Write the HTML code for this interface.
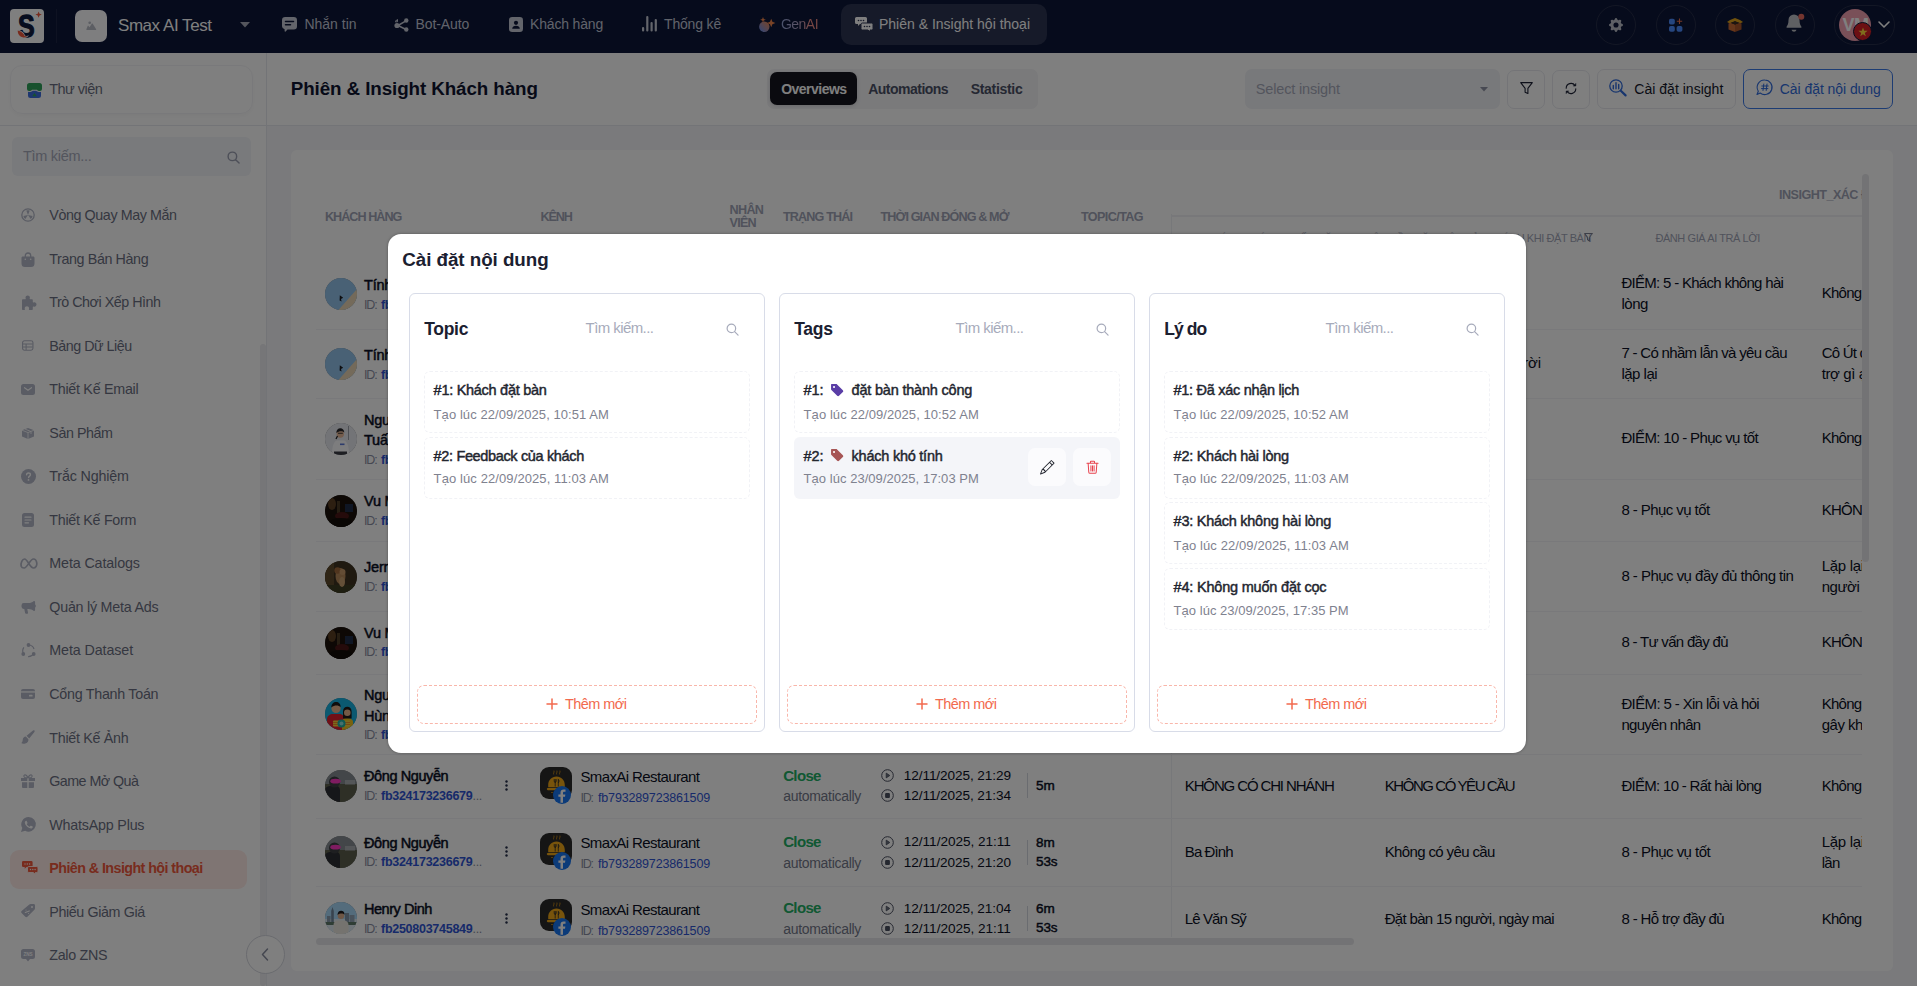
<!DOCTYPE html>
<html lang="vi"><head>
<meta charset="utf-8">
<title>Phiên &amp; Insight hội thoại</title>
<style>
*{box-sizing:border-box;margin:0;padding:0}
html,body{width:1917px;height:986px;overflow:hidden}
body{position:relative;font-family:"Liberation Sans",Arial,sans-serif;font-size:14px;color:#181c32;background:#f4f5f8}
.abs{position:absolute}
.t{position:absolute;white-space:nowrap;line-height:1}
svg{display:block;position:absolute;overflow:visible}
b,.b{font-weight:700}
/* NAV */
#nav{position:absolute;left:0;top:0;width:1917px;height:53px;background:#0c1638}
#nav .logo{left:10px;top:9px;width:34px;height:34px;border-radius:4px;background:#fff;overflow:hidden}
#nav .vdiv{left:56px;top:9px;width:1px;height:34px;background:#1c2544}
#nav .ws{left:75px;top:10px;width:32px;height:32px;border-radius:7px;background:#fcfcff}
#nav .wsn{color:#fff}
#nav .mi{color:#c2c7d6}
#nav .act{left:841px;top:4px;width:206px;height:41px;border-radius:10px;background:#2c3452}
#nav .circ{top:5px;width:40px;height:40px;border-radius:20px;border:1px solid #272e4a}
/* SIDEBAR */
#side{position:absolute;left:0;top:53px;width:267px;height:933px;background:#fff;border-right:1px solid #e6e8ee}
#side .lib{left:10px;top:12px;width:243px;height:49px;border:1px solid #f3f3f6;border-radius:12px;box-shadow:0 2px 4px rgba(0,0,0,.03)}
#side .search{left:12px;top:84px;width:239px;height:39px;border-radius:6px;background:#f2f4f8}
#side .s{color:#6b6f82}
#side .actbg{left:10px;top:797px;width:237px;height:39px;border-radius:9px;background:#ffeae6}
#side .sb{left:260px;top:291px;width:6px;height:642px;background:#ececf0;border-radius:3px}
#side .col{left:246px;top:882px;width:39px;height:39px;border-radius:20px;border:1px solid #d4d6de;background:#fff}
/* HEADER */
#head{position:absolute;left:267px;top:53px;width:1650px;height:73px;background:#fff;border-bottom:1px solid #e6e8ee}
#sidehr{position:absolute;left:0;top:125px;width:267px;height:1px;background:#e6e8ee}
#head .tabs{left:500px;top:16px;width:271px;height:40px;border-radius:7px;background:#f4f4f7}
#head .tabact{left:503px;top:19px;width:87px;height:33px;border-radius:7px;background:#15151f;box-shadow:0 1px 4px rgba(0,0,0,.15)}
#head .sel{left:978px;top:16px;width:255px;height:40px;border-radius:7px;background:#f1f2f6}
#head .btn{top:16.5px;height:39px;border:1px solid #e8e9ef;border-radius:7px;background:#fff}
/* CARD */
#card{position:absolute;left:291px;top:150px;width:1602px;height:821px;background:#fff;border-radius:6px}
.th{color:#a1a5b7;font-weight:700}
.th2{color:#a1a5b7}
.rj{left:auto!important;right:271px}
.nm{color:#0a0f24;-webkit-text-stroke:.5px #0a0f24}
.el{font-weight:400;color:#8b8fa3}
.idl{color:#8b8fa3}
.idv{color:#2f55d4;font-weight:700}
.idv2{color:#2f55d4}
.tx{color:#0a0f24}
.cl{color:#22b066;font-weight:700}
.au{color:#74788a}
.du{color:#0a0f24;-webkit-text-stroke:.45px #0a0f24}
.av{width:32px;height:32px;border-radius:16px;overflow:hidden;background:#888}
.a1{background:linear-gradient(150deg,#8fc0ea 0 58%,#e9d2b0 58% 100%)}
.a2{background:radial-gradient(circle at 50% 60%,#fff 0 30%,#e6e8ee 31% 100%)}
.a3{background:radial-gradient(circle at 50% 45%,#5a3a1e 0 25%,#1e120a 60%)}
.a4{background:radial-gradient(circle at 50% 45%,#8a6a3a 0 25%,#2e2416 65%)}
.a5{background:linear-gradient(180deg,#23b6e0 0 55%,#d33 55% 80%,#2a9 80%)}
.a6{background:linear-gradient(180deg,#6c747c 0 45%,#5a6350 45% 100%)}
.a7{background:linear-gradient(180deg,#9ad4ef 0 50%,#dfe8ee 50% 100%)}
.ch{width:32px;height:32px;border-radius:9px;background:#2b2b2b}
.fb{width:20px;height:20px}
.row{position:absolute;left:25px;width:1546px;border-top:1px solid #eef0f4}
/* OVERLAY + MODAL */
#ov{position:absolute;left:0;top:0;width:1917px;height:986px;background:rgba(0,0,0,.5)}
#modal{position:absolute;left:388px;top:234px;width:1138px;height:519px;background:#fff;border-radius:13px;box-shadow:0 0 3px rgba(0,0,0,.35)}
.panel{position:absolute;top:59px;width:356px;height:439px;border:1px solid #d8dce8;border-radius:6px}
.it{position:absolute;left:14px;width:326px;height:62px;border:1px dashed #f1f2f6;border-radius:6px}
.it .a{color:#23262f;-webkit-text-stroke:.45px #23262f}
.it .d{color:#7f828f}
.add{position:absolute;left:7px;top:391px;width:340px;height:39px;border:1px dashed #f9b6aa;border-radius:7px}
.add .t{color:#f26a4e}
.ph{color:#a7abbb}
</style>
</head>
<body>
<div id="nav">
  <div class="abs logo"></div>
  <div class="abs vdiv"></div>
  <div class="abs ws"></div>
  <div class="t wsn" style="left: 118px; font-size: 17px; top: 16.81px; letter-spacing: -0.45px;">Smax AI Test</div>
  <div class="abs act"></div>
  <div class="t mi" style="left: 304.5px; font-size: 14px; top: 17.45px; letter-spacing: -0.02px;">Nhắn tin</div>
  <div class="t mi" style="left: 415.5px; font-size: 14px; top: 17.45px; letter-spacing: -0.1px;">Bot-Auto</div>
  <div class="t mi" style="left: 530px; font-size: 14px; top: 17.45px; letter-spacing: -0.17px;">Khách hàng</div>
  <div class="t mi" style="left: 664px; font-size: 14px; top: 17.45px; letter-spacing: -0.17px;">Thống kê</div>
  <div class="t mi" style="background: linear-gradient(90deg, rgb(147, 164, 216) 0%, rgb(181, 166, 204) 45%, rgb(240, 141, 134) 80%) text; color: transparent; left: 781px; font-size: 14px; top: 17.45px; letter-spacing: -0.54px;">GenAI</div>
  <div class="t mi" style="color: rgb(255, 255, 255); left: 879px; font-size: 14px; top: 17.45px; letter-spacing: 0px;">Phiên &amp; Insight hội thoại</div>
  <div class="abs circ" style="left:1596px"></div>
  <div class="abs circ" style="left:1656px"></div>
  <div class="abs circ" style="left:1715px"></div>
  <div class="abs circ" style="left:1775px"></div>
  <div class="abs circ" style="left:1834px;width:61px"></div>

  <svg style="left:10px;top:9px" width="34" height="34" viewBox="0 0 34 34"><text x="0" y="0" transform="translate(8,28.300) scale(.78,1)" font-family="Liberation Sans,sans-serif" font-weight="700" font-size="32" fill="#0f1a3f" stroke="#0f1a3f" stroke-width="1.300" stroke-linejoin="round">S</text><path d="M6.800 20.500c-.2 5 2.600 8.200 6.400 8.400 2.400.1 4.500-.8 5.800-2.600-1.400.7-2.700.8-3.800.5-.9-3-4.100-5.900-8.400-6.300z" fill="#fff"></path><path d="M7.700 21.600c0 4 2.300 6.600 5.500 6.800 1.600.1 3-.3 4.100-1.200-1 .1-1.900 0-2.700-.3-.9-2.400-3.500-4.700-6.900-5.300z" fill="#f1583c"></path><path d="M28.600 2.400l.9 2.300 2.300.9-2.300.9-.9 2.300-.9-2.300-2.300-.9 2.300-.9z" fill="#f1583c"></path></svg>
  <svg style="left:86px;top:21px" width="11" height="9.500" viewBox="0 0 14 12" fill="#b9bcc6"><circle cx="4.700" cy="2.200" r="1.700"></circle><path d="M1.200 11.500c-.5 0-.9-.5-.7-1l1.500-4c.2-.5.900-.6 1.200-.2l1.300 1.500 2.800-4.200c.3-.5 1-.5 1.300 0l4.300 6.800c.3.500 0 1.100-.6 1.100z"></path></svg>
  <svg style="left:240px;top:22px" width="10" height="6" viewBox="0 0 10 6" fill="#a9adba"><path d="M0 0h10L5 5.500z"></path></svg>
  <svg style="left:281.500px;top:17px" width="15" height="15" viewBox="0 0 15 15" fill="#c6cad6"><path d="M3.200 0h8.600A3.200 3.200 0 0 1 15 3.200v6A3.200 3.200 0 0 1 11.800 12.400H5.500L3.600 14.500c-.4.400-1 .1-1-.4v-1.900A3.200 3.200 0 0 1 0 9.200v-6A3.200 3.200 0 0 1 3.200 0z"></path><path d="M3.500 4.600h8M3.500 7.700h5" stroke="#0c1638" stroke-width="1.500" stroke-linecap="round"></path></svg>
  <svg style="left:393.500px;top:17.500px" width="15" height="14" viewBox="0 0 15 14" fill="#c6cad6" stroke="#c6cad6"><path d="M4 7.500L12 2.800M4 7.500L12 11.500" stroke-width="1.500" fill="none"></path><circle cx="12.300" cy="2.500" r="2.200" stroke="none"></circle><circle cx="12.300" cy="11.500" r="2.200" stroke="none"></circle><circle cx="3" cy="7.500" r="2.600" stroke="none"></circle><path d="M1 3.500l2.500-2M3.500 1.500v2.300H1.200" stroke-width="1" fill="none"></path></svg>
  <svg style="left:508.500px;top:17px" width="14" height="15" viewBox="0 0 14 15"><rect width="14" height="15" rx="3.200" fill="#c6cad6"></rect><circle cx="7" cy="5.800" r="2.100" fill="#0c1638"></circle><path d="M3.200 11.800c0-2 1.700-3 3.800-3s3.800 1 3.800 3z" fill="#0c1638"></path></svg>
  <svg style="left:641.500px;top:16px" width="15" height="16" viewBox="0 0 15 16" fill="#c6cad6"><rect x="0" y="11" width="2.200" height="4.500" rx="1"></rect><rect x="4.200" y="0" width="2.200" height="15.500" rx="1"></rect><rect x="8.500" y="6" width="2.200" height="9.500" rx="1"></rect><rect x="12.700" y="3" width="2.200" height="12.500" rx="1"></rect></svg>
  <svg style="left:758.500px;top:16.500px" width="17" height="15" viewBox="0 0 17 15"><defs><linearGradient id="gg" x1="0" y1="1" x2="1" y2="0"><stop offset="0" stop-color="#5f8df5"></stop><stop offset="1" stop-color="#f2874c"></stop></linearGradient></defs><circle cx="5.300" cy="9.700" r="5.200" fill="url(#gg)"></circle><path d="M4 0l.8 2 2 .8-2 .8-.8 2-.8-2-2-.8 2-.8z" fill="#f2874c"></path><path d="M12.200 1.800l1.200 3 3 1.200-3 1.200-1.200 3-1.200-3-3-1.200 3-1.200z" fill="#f2874c"></path></svg>
  <svg style="left:855px;top:16.500px" width="18" height="15" viewBox="0 0 18 15" fill="#fff"><path d="M1.500 0h9A1.500 1.500 0 0 1 12 1.500v4A1.500 1.500 0 0 1 10.500 7H5L3 9V7H1.500A1.500 1.500 0 0 1 0 5.500v-4A1.500 1.500 0 0 1 1.500 0z"></path><path d="M7.500 6h9A1.500 1.500 0 0 1 18 7.500v4a1.500 1.500 0 0 1-1.500 1.500H15v2l-2-2H7.500A1.500 1.500 0 0 1 6 11.500v-4A1.500 1.500 0 0 1 7.500 6z" stroke="#2c3452" stroke-width="1"></path><g fill="#2c3452"><circle cx="3.500" cy="3.500" r=".8"></circle><circle cx="6" cy="3.500" r=".8"></circle><circle cx="8.500" cy="3.500" r=".8"></circle><circle cx="9.500" cy="9.500" r=".8"></circle><circle cx="12" cy="9.500" r=".8"></circle><circle cx="14.500" cy="9.500" r=".8"></circle></g></svg>
  <svg style="left:1609px;top:18px" width="14" height="14" viewBox="0 0 16 16" fill="#bcc0cb"><path d="M9.405 1.050c-.413-1.400-2.397-1.400-2.810 0l-.1.340a1.464 1.464 0 0 1-2.105.872l-.31-.170c-1.283-.698-2.686.705-1.987 1.987l.169.311c.446.820.023 1.841-.872 2.105l-.34.100c-1.400.413-1.400 2.397 0 2.810l.34.100a1.464 1.464 0 0 1 .872 2.105l-.170.310c-.698 1.283.705 2.686 1.987 1.987l.311-.169a1.464 1.464 0 0 1 2.105.872l.1.340c.413 1.400 2.397 1.400 2.810 0l.1-.340a1.464 1.464 0 0 1 2.105-.872l.310.170c1.283.698 2.686-.705 1.987-1.987l-.169-.311a1.464 1.464 0 0 1 .872-2.105l.340-.100c1.400-.413 1.400-2.397 0-2.810l-.340-.100a1.464 1.464 0 0 1-.872-2.105l.170-.310c.698-1.283-.705-2.686-1.987-1.987l-.311.169a1.464 1.464 0 0 1-2.105-.872zM8 10.930a2.929 2.929 0 1 1 0-5.860 2.929 2.929 0 0 1 0 5.858z"></path></svg>
  <svg style="left:1669px;top:18px" width="14" height="14" viewBox="0 0 14 14"><rect x="0" y="0.800" width="5.800" height="5.800" rx="1.800" fill="#4c8dff"></rect><rect x="0" y="8" width="5.800" height="5.800" rx="1.800" fill="#4c8dff"></rect><rect x="7.600" y="8" width="5.800" height="5.800" rx="1.800" fill="#4c8dff"></rect><path d="M10.500 .5v5.400M7.800 3.200h5.400" stroke="#f07048" stroke-width="1.100"></path></svg>
  <svg style="left:1727px;top:17px" width="16" height="16" viewBox="0 0 16 16"><path d="M8 1L3 3 0 5l3 1.500L8 4.300l5 2.200L16 5l-3-2z" fill="#e0a31a"></path><path d="M1.500 6.500v6L8 15V7.500L3.500 5.800z" fill="#c96a34"></path><path d="M14.500 6.500v6L8 15V7.500l4.500-1.700z" fill="#a8552a"></path><path d="M3.500 5.800L8 4.200l4.500 1.600L8 7.500z" fill="#3a2a20"></path></svg>
  <svg style="left:1786px;top:13px" width="20" height="22" viewBox="0 0 20 22"><path d="M8 1.500a5.500 5.500 0 0 0-5.500 5.500c0 3.800-1 5.500-1.800 6.400-.5.500-.1 1.400.6 1.400h13.400c.7 0 1.100-.9.600-1.400-.8-.9-1.800-2.600-1.800-6.400A5.500 5.500 0 0 0 8 1.500z" fill="#bfc1c7"></path><path d="M5.500 16.800a2.600 2.600 0 0 0 5 0z" fill="#bfc1c7"></path><circle cx="15.300" cy="3.800" r="3" fill="#e96a5e"></circle></svg>
  <div class="abs" style="left:1839px;top:9px;width:32px;height:32px;border-radius:16px;background:#f2a0b0"></div>
  <div class="t b" style="color: rgb(255, 255, 255); left: 1842.5px; font-size: 18px; top: 16.26px; letter-spacing: -0.5px;">VM</div>
  <div class="abs" style="left:1853px;top:22px;width:19px;height:19px;border-radius:10px;background:#d81f26;border:1.500px solid #0c1638"></div>
  <svg style="left:1857.500px;top:26.500px" width="10" height="10" viewBox="0 0 10 10"><path d="M5 .5l1.200 3.300h3.400L6.800 5.900l1 3.400L5 7.300 2.200 9.300l1-3.400L.4 3.800h3.400z" fill="#ffd83a"></path></svg>
  <svg style="left:1878px;top:21px" width="12" height="8" viewBox="0 0 12 8" fill="none" stroke="#fff" stroke-width="1.600" stroke-linecap="round" stroke-linejoin="round"><path d="M1 1l5 5 5-5"></path></svg>
</div>
<div id="side">
  <div class="abs lib"></div>
  <div class="t s" style="left: 49.2px; font-size: 14.5px; top: 29.23px; letter-spacing: -0.53px;">Thư viện</div>
  <div class="abs search"></div>
  <div class="t ph" style="left: 23px; font-size: 14.5px; top: 95.73px; letter-spacing: -0.29px;">Tìm kiếm...</div>
  <div class="abs actbg"></div>
  <div class="t s" style="left: 49.3px; font-size: 14.3px; top: 155.1px; letter-spacing: -0.41px;">Vòng Quay May Mắn</div>
  <div class="t s" style="left: 49.3px; font-size: 14.3px; top: 198.6px; letter-spacing: -0.39px;">Trang Bán Hàng</div>
  <div class="t s" style="left: 49.3px; font-size: 14.3px; top: 242.2px; letter-spacing: -0.48px;">Trò Chơi Xếp Hình</div>
  <div class="t s" style="left: 49.3px; font-size: 14.3px; top: 285.7px; letter-spacing: -0.49px;">Bảng Dữ Liệu</div>
  <div class="t s" style="left: 49.3px; font-size: 14.3px; top: 329.2px; letter-spacing: -0.28px;">Thiết Kế Email</div>
  <div class="t s" style="left: 49.3px; font-size: 14.3px; top: 372.8px; letter-spacing: -0.45px;">Sản Phẩm</div>
  <div class="t s" style="left: 49.3px; font-size: 14.3px; top: 416.3px; letter-spacing: -0.17px;">Trắc Nghiệm</div>
  <div class="t s" style="left: 49.3px; font-size: 14.3px; top: 459.8px; letter-spacing: -0.29px;">Thiết Kế Form</div>
  <div class="t s" style="left: 49.3px; font-size: 14.3px; top: 503.4px; letter-spacing: -0.13px;">Meta Catalogs</div>
  <div class="t s" style="left: 49.3px; font-size: 14.3px; top: 546.9px; letter-spacing: -0.24px;">Quản lý Meta Ads</div>
  <div class="t s" style="left: 49.3px; font-size: 14.3px; top: 590.4px; letter-spacing: -0.11px;">Meta Dataset</div>
  <div class="t s" style="left: 49.3px; font-size: 14.3px; top: 634px; letter-spacing: -0.28px;">Cổng Thanh Toán</div>
  <div class="t s" style="left: 49.3px; font-size: 14.3px; top: 677.5px; letter-spacing: -0.3px;">Thiết Kế Ảnh</div>
  <div class="t s" style="left: 49.3px; font-size: 14.3px; top: 721px; letter-spacing: -0.56px;">Game Mở Quà</div>
  <div class="t s" style="left: 49.3px; font-size: 14.3px; top: 764.6px; letter-spacing: -0.21px;">WhatsApp Plus</div>
  <div class="t s b" style="color: rgb(241, 88, 60); left: 49.3px; font-size: 14.3px; top: 808.1px; letter-spacing: -0.57px;">Phiên &amp; Insight hội thoại</div>
  <div class="t s" style="left: 49.3px; font-size: 14.3px; top: 851.6px; letter-spacing: -0.39px;">Phiếu Giảm Giá</div>
  <div class="t s" style="left: 49.3px; font-size: 14.3px; top: 895.2px; letter-spacing: -0.31px;">Zalo ZNS</div>
  <div class="abs sb"></div>
  <div class="abs col"></div>
  <svg style="left:26.500px;top:30px" width="15" height="15" viewBox="0 0 15 15"><path d="M2.500 0h10A2.500 2.500 0 0 1 15 2.500V6a2 2 0 0 1-2 2h-1.200c-.8 0-1.500-.5-1.800-1.200H5c-.3.700-1 1.200-1.800 1.200H2a2 2 0 0 1-2-2V2.500A2.500 2.500 0 0 1 2.500 0z" fill="#2fa35a"></path><path d="M1 8.800c.4.200.8.200 1.200.2h1c1 0 1.900-.5 2.400-1.200h3.800c.5.700 1.400 1.200 2.400 1.200h1c.4 0 .8 0 1.200-.2v3.700A2.500 2.500 0 0 1 11.500 15h-8A2.500 2.500 0 0 1 1 12.500z" fill="#3d6fe0"></path><path d="M7.500 10l2.300 3.200H5.200z" fill="#2fa35a"></path></svg>
  <svg style="left:226.500px;top:97.800px" width="13" height="13" viewBox="0 0 14 14" fill="none" stroke="#9a9eb0" stroke-width="1.500" stroke-linecap="round"><circle cx="5.800" cy="5.800" r="4.600"></circle><path d="M9.300 9.300L13 13"></path></svg>
  <svg style="left:21.0px;top:155.0px" width="14" height="14" viewBox="0 0 14 14"><circle cx="7" cy="7" r="6.200" fill="none" stroke="#b4b8c8" stroke-width="1.300"></circle><g fill="#b4b8c8"><path d="M7 7L5.300 2.600a4.800 4.800 0 0 1 3.400 0z"></path><path d="M7 7l4.600 1a4.800 4.800 0 0 1-1.900 2.900z"></path><path d="M7 7L4.300 10.900A4.800 4.800 0 0 1 2.400 8z"></path></g></svg>
  <svg style="left:21.0px;top:198.5px" width="14" height="15" viewBox="0 0 14 15"><path d="M4.300 5V3.700a2.700 2.700 0 0 1 5.400 0V5" fill="none" stroke="#b4b8c8" stroke-width="1.300"></path><path d="M1.800 4.500h10.400c.7 0 1.300.6 1.300 1.300v5.700A3.500 3.500 0 0 1 10 15H4A3.500 3.500 0 0 1 .5 11.500V5.800c0-.7.600-1.300 1.300-1.300z" fill="#b4b8c8"></path><circle cx="4.300" cy="7.300" r=".8" fill="#fff"></circle><circle cx="9.700" cy="7.300" r=".8" fill="#fff"></circle></svg>
  <svg style="left:20.5px;top:241.5px" width="15" height="15" viewBox="0 0 15 15"><path d="M1 5.200c0-.6.500-1 1-1h2.300c.4 0 .6-.4.400-.8A2 2 0 0 1 4.500 2.500C4.500 1.400 5.500.5 6.700.5s2.200.9 2.200 2c0 .3-.1.600-.2.900-.2.400 0 .8.400.8h1.700c.6 0 1 .4 1 1v1.900c0 .4.400.6.800.4.300-.1.600-.2.900-.2 1.100 0 2 1 2 2.200s-.9 2.200-2 2.200c-.3 0-.6-.1-.9-.2-.4-.2-.8 0-.8.400v2c0 .6-.4 1-1 1H8.300c-.4 0-.6-.4-.4-.8.100-.3.200-.6.200-.9 0-1.100-1-2-2.200-2s-2.200.9-2.200 2c0 .3.100.6.200.9.200.4 0 .8-.4.800H2c-.5 0-1-.4-1-1z" fill="#b4b8c8"></path></svg>
  <svg style="left:22.3px;top:287.3px" width="11.500" height="11" viewBox="0 0 14 13"><rect x=".7" y=".7" width="12.600" height="11.600" rx="2.300" fill="none" stroke="#b4b8c8" stroke-width="1.400"></rect><path d="M1 4.600h12M1 8.400h12M5 4.600v7.400" stroke="#b4b8c8" stroke-width="1.300"></path></svg>
  <svg style="left:21.0px;top:330.5px" width="14" height="11" viewBox="0 0 14 11"><rect width="14" height="11" rx="2.500" fill="#b4b8c8"></rect><path d="M3.500 3.700L7 6.300l3.500-2.600" fill="none" stroke="#fff" stroke-width="1.100" stroke-linecap="round"></path></svg>
  <svg style="left:22.0px;top:374.5px" width="12" height="11" viewBox="0 0 12 11"><path d="M6 0L12 2.200V8.500L6 11 0 8.500V2.200z" fill="#b4b8c8"></path><path d="M0 2.200L6 4.600l6-2.400M6 4.600V11M3 1.100l6 2.400v2.500" fill="none" stroke="#fff" stroke-width=".8"></path></svg>
  <svg style="left:20.5px;top:415.5px" width="15" height="15" viewBox="0 0 15 15"><circle cx="7.500" cy="7.500" r="7.500" fill="#b4b8c8"></circle><path d="M5.600 5.800c0-1 .8-1.800 1.900-1.800s1.900.7 1.900 1.700c0 1.300-1.800 1.500-1.800 2.800" fill="none" stroke="#fff" stroke-width="1.400" stroke-linecap="round"></path><circle cx="7.500" cy="10.900" r=".9" fill="#fff"></circle></svg>
  <svg style="left:22.0px;top:460.0px" width="12" height="14" viewBox="0 0 12 14"><rect width="12" height="14" rx="2.500" fill="#b4b8c8"></rect><path d="M3 4.200h6M3 7h6M3 9.800h3.500" stroke="#fff" stroke-width="1.200" stroke-linecap="round"></path></svg>
  <svg style="left:20.0px;top:504.5px" width="18" height="11" viewBox="0 0 18 11"><path d="M1.200 8.200C.5 5 2.300 1 4.600 1c2.800 0 5.500 9 8.800 9 2.300 0 3.700-2.300 3.400-4.800C16.500 2.800 15.200 1 13.400 1 10.200 1 7.200 10 4.200 10c-1.600 0-2.700-.8-3-1.800z" fill="none" stroke="#b4b8c8" stroke-width="1.700"></path></svg>
  <svg style="left:20.5px;top:547.5px" width="15" height="13" viewBox="0 0 15 13"><path d="M13.200 0c.5 0 .9.400.9.900v8.200c0 .5-.4.900-.9.900-.3 0-.5-.1-.7-.3C11.300 8.600 9.500 8 7.500 7.900H6.300l.7 3.800c.1.500-.3 1-.8 1H5c-.4 0-.8-.3-.9-.7L3.300 7.900H2.800A2.300 2.300 0 0 1 .5 5.600v-1.200A2.300 2.300 0 0 1 2.800 2.100h4.700c2-.1 3.800-.7 5-1.800.2-.2.400-.3.700-.3z" fill="#b4b8c8"></path><rect x="14.300" y="3.800" width=".7" height="2.400" fill="#b4b8c8"></rect></svg>
  <svg style="left:20.5px;top:589.5px" width="15" height="15" viewBox="0 0 15 15"><circle cx="7.500" cy="7.800" r="5.800" fill="none" stroke="#b4b8c8" stroke-width="1.200" stroke-dasharray="6.500 5.650" stroke-dashoffset="-2.800"></circle><circle cx="7.500" cy="2" r="1.900" fill="#b4b8c8"></circle><circle cx="2.300" cy="11" r="1.900" fill="#b4b8c8"></circle><circle cx="12.700" cy="11" r="1.900" fill="#b4b8c8"></circle></svg>
  <svg style="left:21.0px;top:636.0px" width="14" height="10" viewBox="0 0 14 10"><rect width="14" height="10" rx="2" fill="#b4b8c8"></rect><rect x="0" y="2.300" width="14" height="1.300" fill="#fff"></rect><rect x="8" y="5.800" width="3.600" height="1.800" rx=".6" fill="#fff"></rect></svg>
  <svg style="left:21.0px;top:677.0px" width="14" height="14" viewBox="0 0 14 14"><path d="M13.300.3c.5.500.5 1.200.1 1.700L8.200 8.400 5.600 5.800 12 .6c.4-.4 1-.5 1.300-.3z" fill="#b4b8c8"></path><path d="M4.800 6.600l2.600 2.600c.3 2-1 3.800-3.200 4.300-1.600.4-3.300.1-4-.5 1.200-.6 1.300-1.600 1.500-3 .2-1.900 1.400-3.300 3.100-3.400z" fill="#b4b8c8"></path></svg>
  <svg style="left:21.0px;top:721.0px" width="14" height="14" viewBox="0 0 14 14"><path d="M0 4h6.300v3H0zM7.700 4H14v3H7.700zM1 8.200h5.300V14H2a1 1 0 0 1-1-1zM7.700 8.200H13V13a1 1 0 0 1-1 1H7.700z" fill="#b4b8c8"></path><path d="M7 3.800C5.800 1.300 4.500.5 3.500 1s-.8 2 .8 2.800zM7 3.800C8.200 1.300 9.500.5 10.500 1s.8 2-.8 2.800z" fill="none" stroke="#b4b8c8" stroke-width="1.100"></path></svg>
  <svg style="left:20.5px;top:763.5px" width="15" height="15" viewBox="0 0 15 15"><path d="M7.600 0A7.300 7.300 0 0 0 1.300 11L0 15l4.200-1.200A7.300 7.300 0 1 0 7.600 0z" fill="#b4b8c8"></path><path d="M5.300 3.800c.2 0 .4 0 .5.400l.7 1.600c.1.200 0 .4-.1.600l-.5.600c-.1.200-.1.300 0 .5.600 1 1.400 1.700 2.500 2.200.2.100.4.100.5-.1l.6-.8c.2-.2.400-.2.600-.1l1.500.7c.3.100.4.300.3.600-.2.900-.9 1.500-1.800 1.500-2.900-.1-6-3-6.300-5.900-.1-.8.500-1.700 1.500-1.800z" fill="#fff"></path></svg>
  <svg style="left:21.5px;top:808.0px" width="16" height="14" viewBox="0 0 16 14"><path d="M1.300 0h8A1.300 1.300 0 0 1 10.600 1.300v3.400A1.300 1.300 0 0 1 9.300 6H4.500L2.700 7.800V6H1.300A1.300 1.300 0 0 1 0 4.700V1.300A1.300 1.300 0 0 1 1.300 0z" fill="#f1583c"></path><path d="M6.800 5.500h8A1.300 1.300 0 0 1 16 6.800v3.400a1.300 1.300 0 0 1-1.300 1.300h-1.300v2l-2-2H6.800a1.300 1.300 0 0 1-1.300-1.300V6.800a1.300 1.300 0 0 1 1.300-1.300z" fill="#f1583c" stroke="#ffefec" stroke-width=".9"></path><g fill="#ffefec"><circle cx="3" cy="3" r=".7"></circle><circle cx="5.300" cy="3" r=".7"></circle><circle cx="7.600" cy="3" r=".7"></circle><circle cx="8.500" cy="8.500" r=".7"></circle><circle cx="10.800" cy="8.500" r=".7"></circle><circle cx="13.100" cy="8.500" r=".7"></circle></g></svg>
  <svg style="left:21.0px;top:851.0px" width="14" height="14" viewBox="0 0 14 14"><path d="M8.300.6c.4-.4.900-.6 1.500-.6h2.800c.8 0 1.400.6 1.400 1.400v2.800c0 .6-.2 1.100-.6 1.500l-7 7c-.6.600-1.500.6-2.100 0L.6 9c-.6-.6-.6-1.500 0-2.100z" fill="#b4b8c8" transform="rotate(0)"></path><circle cx="11" cy="3" r="1" fill="#fff"></circle><path d="M4.300 8.500l4-1.600M5 6l.01 0M7.600 9.500l.01 0" stroke="#fff" stroke-width="1.100" stroke-linecap="round"></path></svg>
  <svg style="left:21.0px;top:895.5px" width="14" height="13" viewBox="0 0 14 13"><path d="M2.500 0h9A2.500 2.500 0 0 1 14 2.500v5A2.500 2.500 0 0 1 11.500 10H9L7 12.500 5 10H2.500A2.500 2.500 0 0 1 0 7.500v-5A2.500 2.500 0 0 1 2.500 0z" fill="#b4b8c8"></path><text x="7" y="6.800" font-size="4.600" font-weight="700" text-anchor="middle" fill="#fff" font-family="Liberation Sans,sans-serif">ZNS</text></svg>
  <svg style="left:261px;top:895px" width="8" height="13" viewBox="0 0 8 13" fill="none" stroke="#8a8ea0" stroke-width="1.500" stroke-linecap="round" stroke-linejoin="round"><path d="M6.500 1L1.500 6.500l5 5.500"></path></svg>
</div>
<div id="sidehr"></div>
<div id="head">
  <div class="t b" style="color: rgb(15, 21, 48); left: 23.8px; font-size: 18.8px; top: 27.49px; letter-spacing: -0.09px;">Phiên &amp; Insight Khách hàng</div>
  <div class="abs tabs"></div>
  <div class="abs tabact"></div>
  <div class="t b" style="color: rgb(255, 255, 255); left: 514.2px; font-size: 14px; top: 28.95px; letter-spacing: -0.52px;">Overviews</div>
  <div class="t b" style="color: rgb(75, 81, 102); left: 601.2px; font-size: 14px; top: 28.95px; letter-spacing: -0.51px;">Automations</div>
  <div class="t b" style="color: rgb(75, 81, 102); left: 703.7px; font-size: 14px; top: 28.95px; letter-spacing: -0.3px;">Statistic</div>
  <div class="abs sel"></div>
  <div class="t ph" style="left: 988.8px; font-size: 14.5px; top: 28.73px; letter-spacing: -0.16px;">Select insight</div>
  <div class="abs btn" style="left:1240px;width:38px"></div>
  <div class="abs btn" style="left:1285px;width:38px"></div>
  <div class="abs btn" style="left:1330px;width:139px;top:16px;height:40px"></div>
  <div class="abs btn" style="left:1476px;width:150px;border-color:#3b78e6;top:16px;height:40px"></div>

  <svg style="left:1213px;top:34px" width="8" height="5" viewBox="0 0 8 5" fill="#8f93a5"><path d="M0 0h8L4 4.500z"></path></svg>
  <svg style="left:1252.500px;top:29px" width="13" height="12.500" viewBox="0 0 13 12.500" fill="none" stroke="#1c2135" stroke-width="1.100" stroke-linejoin="round"><path d="M.7.600h11.600L7.900 6.300v5.200l-2.800-1.300V6.300z"></path></svg>
  <svg style="left:1297px;top:28.500px" width="14" height="13" viewBox="0 0 14 13" fill="none" stroke="#1c2135" stroke-width="1.100" stroke-linecap="round"><path d="M2.200 6.200A4.800 4.800 0 0 1 11 3.600M11.800 6.800A4.800 4.800 0 0 1 3 9.400"></path><path d="M9.300 3.900h2.500V1.500M4.700 9.100H2.200v2.400" stroke-linejoin="round" fill="#1c2135" stroke-width=".6"></path></svg>
  <svg style="left:1342px;top:25.500px" width="18" height="17.500" viewBox="0 0 18 17.500" fill="none" stroke="#2f6bdc"><circle cx="7" cy="7" r="6.200" stroke-width="1.300"></circle><path d="M11.800 11.800l4.800 4.600" stroke-width="2.200" stroke-linecap="round"></path><path d="M4.300 6.500v3.300M7 3.800v6M9.700 5.500v4.300" stroke-width="1.400" stroke-linecap="round"></path></svg>
  <svg style="left:1488.500px;top:25.500px" width="17" height="17" viewBox="0 0 17 17" fill="none" stroke="#2f6bdc" stroke-width="1.100" stroke-linecap="round"><path d="M8.800 1a7.300 7.300 0 1 1-4.600 13L1 15.500l1.300-3.300A7.300 7.300 0 0 1 8.800 1z" stroke-linejoin="round"></path><path d="M7.800 5l-.8 6.500M11 5l-.8 6.500M5.800 7h6.400M5.500 9.600h6.400" stroke-width="1"></path></svg>
  <div class="t" style="color: rgb(20, 24, 43); left: 1367.3px; font-size: 14px; top: 28.95px; letter-spacing: 0.02px;">Cài đặt insight</div>
  <div class="t" style="color: rgb(47, 107, 220); left: 1512.8px; font-size: 14px; top: 28.95px; letter-spacing: -0.06px;">Cài đặt nội dung</div>
</div>
<div id="card">
<div class="t th" style="left: 33.9px; font-size: 12.6px; top: 60.63px; letter-spacing: -0.95px;">KHÁCH HÀNG</div>
<div class="t th" style="left: 249.5px; font-size: 12.6px; top: 60.63px; letter-spacing: -1.12px;">KÊNH</div>
<div class="t th" style="left: 438.5px; font-size: 12.6px; top: 53.63px; letter-spacing: -0.65px;">NHÂN</div>
<div class="t th" style="left: 438.5px; font-size: 12.6px; top: 67.43px; letter-spacing: -0.73px;">VIÊN</div>
<div class="t th" style="left: 492px; font-size: 12.6px; top: 60.63px; letter-spacing: -0.84px;">TRẠNG THÁI</div>
<div class="t th" style="left: 589.5px; font-size: 12.6px; top: 60.63px; letter-spacing: -0.87px;">THỜI GIAN ĐÓNG &amp; MỞ</div>
<div class="t th" style="left: 790px; font-size: 12.6px; top: 60.63px; letter-spacing: -0.6px;">TOPIC/TAG</div>
<div class="abs" style="left:880px;top:20px;width:691px;height:767px;overflow:hidden">
<div class="t th" style="left: 608px; font-size: 12.6px; top: 18.93px; letter-spacing: -0.52px;">INSIGHT_XÁC ĐỊNH NHU CẦU</div>
<div class="abs" style="left:0;top:45px;width:700px;height:2px;background:#f0f1f5"></div>
<div class="t th2" style="left: 14px; font-size: 11px; top: 62.99px; letter-spacing: -0.48px;">CHI NHÁNH KHÁCH MUỐN ĐẶT</div>
<div class="t th2 rj" style="left: 214px; font-size: 11px; top: 62.99px; letter-spacing: -0.43px;">YÊU CẦU ĐẶC BIỆT CỦA KHÁCH KHI ĐẶT BÀN</div>
<div class="t th2" style="left: 484.4px; font-size: 11px; top: 62.99px; letter-spacing: -0.42px;">ĐÁNH GIÁ AI TRẢ LỜI</div>
<svg style="left:412.70000000000005px;top:63.30000000000001px" width="9" height="9" viewBox="0 0 9 9" fill="none" stroke="#7a7e90" stroke-width="1" stroke-linejoin="round"><path d="M.5.500h8L5.500 4.200v3.800L3.500 7V4.200z"></path></svg>
</div>
<div class="abs" style="left:880px;top:64px;width:1px;height:723px;background:#eef0f4"></div>
<div class="abs" style="left:25px;top:109px;width:1546px;height:678px;overflow:hidden">
<div class="abs" style="left:0;top:-1px;width:1546px;height:1px;background:#f2f3f6"></div>
<div class="abs av" style="left:9px;top:18.8px"><svg width="32" height="32" viewBox="0 0 32 32"><rect width="32" height="32" fill="#92c2ea"></rect><path d="M32 11L13.500 32H32z" fill="#e9d5b4"></path><path d="M14.800 17.200l3.400 2.600-2.200 1.200.6 2.600-2-1.200z" fill="#1c1c20"></path></svg></div>
<div class="t nm" style="left: 48px; font-size: 14.5px; top: 18.93px; letter-spacing: -0.23px;">Tính</div>
<div class="t idl" style="left: 48px; font-size: 12.5px; top: 39.62px; letter-spacing: -1.16px;">ID:</div>
<div class="t idv" style="left: 65px; font-size: 12.5px; top: 39.62px; letter-spacing: -0.48px;">fb2508037458491</div>
<svg style="left:188.5px;top:28.0px" width="3" height="11" viewBox="0 0 3 11" fill="#252f4a"><circle cx="1.5" cy="1.5" r="1.2"></circle><circle cx="1.5" cy="5.5" r="1.2"></circle><circle cx="1.5" cy="9.5" r="1.2"></circle></svg>
<div class="abs ch" style="left:224.2px;top:15.9px"><svg style="left:5.500px;top:1.500px" width="21" height="27" viewBox="0 0 21 27"><path d="M10.500 7.500c-4.800 0-8.300 3.600-8.300 8.400v2.300h16.600v-2.300c0-4.800-3.500-8.400-8.300-8.400z" fill="#f0a818"></path><rect x=".8" y="19" width="19.400" height="2.200" rx="1.100" fill="#f0a818"></rect><path d="M7.500 5c-.3-1.200.9-1.600.5-3M10.500 5c-.3-1.200.9-1.600.5-3M13.500 5c-.3-1.200.9-1.600.5-3" stroke="#c98a14" stroke-width=".9" fill="none" stroke-linecap="round"></path><path d="M9.200 10.500v3M8.200 10.500v1.700c0 .6.400 1 1 1s1-.4 1-1v-1.700M9.200 13.200v4M12.300 10.500v6.700M12.300 10.500c1 .5 1.200 2.400 0 3.300" stroke="#2b2b2b" stroke-width=".8" fill="none" stroke-linecap="round"></path><path d="M5 23.500h2M8.500 23.500h4M14 23.500h2" stroke="#c98a14" stroke-width=".8"></path></svg></div>
<div class="abs fb" style="left:236.3px;top:33.7px"><svg style="left:0;top:0" width="20" height="20" viewBox="0 0 20 20"><circle cx="10" cy="10" r="9" fill="#1877f2"></circle><path d="M11 17.800v-6h2l.35-2.400H11V7.900c0-.7.300-1.200 1.300-1.200h1.200V4.600c-.3 0-1-.1-1.900-.1-1.900 0-3.100 1.100-3.100 3.200v1.700H6.400v2.400h2.100v6z" fill="#fff"></path></svg></div>
<div class="t tx" style="left: 264.4px; font-size: 15px; top: 17.8px; letter-spacing: -0.6px;">SmaxAi Restaurant</div>
<div class="t idl" style="left: 264.4px; font-size: 12.5px; top: 40.22px; letter-spacing: -1.16px;">ID:</div>
<div class="t idv2" style="left: 282px; font-size: 12.5px; top: 40.22px; letter-spacing: -0.16px;">fb793289723861509</div>
<div class="t cl" style="left: 467.2px; font-size: 15px; top: 16.4px; letter-spacing: -0.65px;">Close</div>
<div class="t au" style="left: 467.2px; font-size: 14px; top: 37.85px; letter-spacing: -0.3px;">automatically</div>
<svg style="left:564.5px;top:17.5px" width="13" height="13" viewBox="0 0 13 13" fill="none" stroke="#4b5060" stroke-width="1"><circle cx="6.500" cy="6.500" r="5.800"></circle><path d="M5.200 4.100v4.800l3.600-2.400z" stroke-width=".8" stroke-linejoin="round" fill="#6b7080"></path></svg>
<svg style="left:564.5px;top:37.6px" width="13" height="13" viewBox="0 0 13 13" fill="none" stroke="#4b5060" stroke-width="1"><circle cx="6.500" cy="6.500" r="5.800"></circle><rect x="4.100" y="4.100" width="4.800" height="4.800" rx="1" fill="#4b5060" stroke="none"></rect></svg>
<div class="t tx" style="left: 587.8px; font-size: 13.6px; top: 17.39px; letter-spacing: -0.09px;">12/11/2025, 21:40</div>
<div class="t tx" style="left: 587.8px; font-size: 13.6px; top: 37.59px; letter-spacing: -0.09px;">12/11/2025, 21:52</div>
<div class="abs" style="left:711px;top:21.5px;width:1px;height:25px;background:#d5d8e0"></div>
<div class="t du" style="left: 720px; font-size: 13.5px; top: 27.67px; letter-spacing: -0.09px;">12m</div>
<div class="t tx" style="left: 1305.4px; font-size: 15px; top: 16.1px; letter-spacing: -0.7px;">ĐIỂM: 5 - Khách không hài</div>
<div class="t tx" style="left: 1305.4px; font-size: 15px; top: 37.1px; letter-spacing: -0.46px;">lòng</div>
<div class="t tx" style="left: 1505.7px; font-size: 15px; top: 26.4px; letter-spacing: -0.75px;">Không</div>
<div class="abs" style="left:0;top:70px;width:1546px;height:1px;background:#f2f3f6"></div>
<div class="abs av" style="left:9px;top:88.8px"><svg width="32" height="32" viewBox="0 0 32 32"><rect width="32" height="32" fill="#92c2ea"></rect><path d="M32 11L13.500 32H32z" fill="#e9d5b4"></path><path d="M14.800 17.200l3.400 2.600-2.200 1.200.6 2.600-2-1.200z" fill="#1c1c20"></path></svg></div>
<div class="t nm" style="left: 48px; font-size: 14.5px; top: 88.93px; letter-spacing: -0.23px;">Tính</div>
<div class="t idl" style="left: 48px; font-size: 12.5px; top: 109.62px; letter-spacing: -1.16px;">ID:</div>
<div class="t idv" style="left: 65px; font-size: 12.5px; top: 109.62px; letter-spacing: -0.48px;">fb2508037458491</div>
<svg style="left:188.5px;top:98.0px" width="3" height="11" viewBox="0 0 3 11" fill="#252f4a"><circle cx="1.5" cy="1.5" r="1.2"></circle><circle cx="1.5" cy="5.5" r="1.2"></circle><circle cx="1.5" cy="9.5" r="1.2"></circle></svg>
<div class="abs ch" style="left:224.2px;top:85.9px"><svg style="left:5.500px;top:1.500px" width="21" height="27" viewBox="0 0 21 27"><path d="M10.500 7.500c-4.800 0-8.300 3.600-8.300 8.400v2.300h16.600v-2.300c0-4.800-3.500-8.400-8.300-8.400z" fill="#f0a818"></path><rect x=".8" y="19" width="19.400" height="2.200" rx="1.100" fill="#f0a818"></rect><path d="M7.500 5c-.3-1.200.9-1.600.5-3M10.500 5c-.3-1.200.9-1.600.5-3M13.500 5c-.3-1.200.9-1.600.5-3" stroke="#c98a14" stroke-width=".9" fill="none" stroke-linecap="round"></path><path d="M9.200 10.500v3M8.200 10.500v1.700c0 .6.400 1 1 1s1-.4 1-1v-1.700M9.200 13.200v4M12.300 10.500v6.700M12.300 10.500c1 .5 1.200 2.400 0 3.300" stroke="#2b2b2b" stroke-width=".8" fill="none" stroke-linecap="round"></path><path d="M5 23.500h2M8.500 23.500h4M14 23.500h2" stroke="#c98a14" stroke-width=".8"></path></svg></div>
<div class="abs fb" style="left:236.3px;top:103.7px"><svg style="left:0;top:0" width="20" height="20" viewBox="0 0 20 20"><circle cx="10" cy="10" r="9" fill="#1877f2"></circle><path d="M11 17.800v-6h2l.35-2.400H11V7.900c0-.7.300-1.200 1.300-1.200h1.200V4.600c-.3 0-1-.1-1.900-.1-1.900 0-3.100 1.100-3.100 3.200v1.700H6.400v2.400h2.100v6z" fill="#fff"></path></svg></div>
<div class="t tx" style="left: 264.4px; font-size: 15px; top: 87.8px; letter-spacing: -0.6px;">SmaxAi Restaurant</div>
<div class="t idl" style="left: 264.4px; font-size: 12.5px; top: 110.22px; letter-spacing: -1.16px;">ID:</div>
<div class="t idv2" style="left: 282px; font-size: 12.5px; top: 110.22px; letter-spacing: -0.16px;">fb793289723861509</div>
<div class="t cl" style="left: 467.2px; font-size: 15px; top: 86.4px; letter-spacing: -0.65px;">Close</div>
<div class="t au" style="left: 467.2px; font-size: 14px; top: 107.85px; letter-spacing: -0.3px;">automatically</div>
<svg style="left:564.5px;top:87.5px" width="13" height="13" viewBox="0 0 13 13" fill="none" stroke="#4b5060" stroke-width="1"><circle cx="6.500" cy="6.500" r="5.800"></circle><path d="M5.200 4.100v4.800l3.600-2.400z" stroke-width=".8" stroke-linejoin="round" fill="#6b7080"></path></svg>
<svg style="left:564.5px;top:107.6px" width="13" height="13" viewBox="0 0 13 13" fill="none" stroke="#4b5060" stroke-width="1"><circle cx="6.500" cy="6.500" r="5.800"></circle><rect x="4.100" y="4.100" width="4.800" height="4.800" rx="1" fill="#4b5060" stroke="none"></rect></svg>
<div class="t tx" style="left: 587.8px; font-size: 13.6px; top: 87.39px; letter-spacing: -0.09px;">12/11/2025, 21:40</div>
<div class="t tx" style="left: 587.8px; font-size: 13.6px; top: 107.59px; letter-spacing: -0.09px;">12/11/2025, 21:52</div>
<div class="abs" style="left:711px;top:91.5px;width:1px;height:25px;background:#d5d8e0"></div>
<div class="t du" style="left: 720px; font-size: 13.5px; top: 97.67px; letter-spacing: -0.09px;">12m</div>
<div class="t tx" style="left: 1068.7px; font-size: 15px; top: 96.4px; letter-spacing: -0.15px;">Đặt 10 người, ngoài trời</div>
<div class="t tx" style="left: 1305.4px; font-size: 15px; top: 86.1px; letter-spacing: -0.69px;">7 - Có nhầm lẫn và yêu cầu</div>
<div class="t tx" style="left: 1305.4px; font-size: 15px; top: 107.1px; letter-spacing: -0.49px;">lặp lại</div>
<div class="t tx" style="left: 1505.7px; font-size: 15px; top: 86.1px; letter-spacing: -0.8px;">Cô Út có thể hỗ</div>
<div class="t tx" style="left: 1505.7px; font-size: 15px; top: 107.1px; letter-spacing: -0.39px;">trợ gì ạ</div>
<div class="abs" style="left:0;top:139px;width:1546px;height:1px;background:#f2f3f6"></div>
<div class="abs av" style="left:9px;top:163.8px"><svg width="32" height="32" viewBox="0 0 32 32"><rect width="32" height="32" fill="#e6e8ee"></rect><rect x="23" y="3" width=".8" height="14" fill="#8a8e98"></rect><path d="M7 32c0-8 1.500-13 4.500-14.500h8C22.500 19 24 24 24 32z" fill="#fbfbfd"></path><rect x="9" y="28.500" width="13" height="3.500" fill="#3a3c44"></rect><circle cx="15.300" cy="11" r="3.700" fill="#e6b898"></circle><path d="M11.300 10c0-3 1.800-4.800 4-4.800s4 1.800 4 4.300c-1.500-1.500-5-2-8 .5z" fill="#26262a"></path><rect x="13" y="9.800" width="4.800" height=".9" fill="#333"></rect><rect x="15" y="20.500" width="4.500" height="1.600" fill="#5a78d8"></rect><path d="M11 16l1.500-3" stroke="#222" stroke-width="1.300"></path></svg></div>
<div class="t nm" style="left: 48px; font-size: 14.5px; top: 153.73px; letter-spacing: -0.25px;">Nguyễn</div>
<div class="t nm" style="left: 48px; font-size: 14.5px; top: 174.23px; letter-spacing: -0.25px;">Tuấn</div>
<div class="t idl" style="left: 48px; font-size: 12.5px; top: 194.92px; letter-spacing: -1.16px;">ID:</div>
<div class="t idv" style="left: 65px; font-size: 12.5px; top: 194.92px; letter-spacing: -0.48px;">fb2417323667901</div>
<svg style="left:188.5px;top:173.0px" width="3" height="11" viewBox="0 0 3 11" fill="#252f4a"><circle cx="1.5" cy="1.5" r="1.2"></circle><circle cx="1.5" cy="5.5" r="1.2"></circle><circle cx="1.5" cy="9.5" r="1.2"></circle></svg>
<div class="abs ch" style="left:224.2px;top:160.9px"><svg style="left:5.500px;top:1.500px" width="21" height="27" viewBox="0 0 21 27"><path d="M10.500 7.500c-4.800 0-8.300 3.600-8.300 8.400v2.300h16.600v-2.300c0-4.800-3.500-8.400-8.300-8.400z" fill="#f0a818"></path><rect x=".8" y="19" width="19.400" height="2.200" rx="1.100" fill="#f0a818"></rect><path d="M7.500 5c-.3-1.200.9-1.600.5-3M10.500 5c-.3-1.200.9-1.600.5-3M13.500 5c-.3-1.200.9-1.600.5-3" stroke="#c98a14" stroke-width=".9" fill="none" stroke-linecap="round"></path><path d="M9.200 10.500v3M8.200 10.500v1.700c0 .6.400 1 1 1s1-.4 1-1v-1.700M9.200 13.200v4M12.300 10.500v6.700M12.300 10.500c1 .5 1.200 2.400 0 3.300" stroke="#2b2b2b" stroke-width=".8" fill="none" stroke-linecap="round"></path><path d="M5 23.500h2M8.500 23.500h4M14 23.500h2" stroke="#c98a14" stroke-width=".8"></path></svg></div>
<div class="abs fb" style="left:236.3px;top:178.7px"><svg style="left:0;top:0" width="20" height="20" viewBox="0 0 20 20"><circle cx="10" cy="10" r="9" fill="#1877f2"></circle><path d="M11 17.800v-6h2l.35-2.400H11V7.900c0-.7.300-1.200 1.300-1.200h1.200V4.600c-.3 0-1-.1-1.900-.1-1.900 0-3.100 1.100-3.100 3.200v1.700H6.400v2.400h2.100v6z" fill="#fff"></path></svg></div>
<div class="t tx" style="left: 264.4px; font-size: 15px; top: 162.8px; letter-spacing: -0.6px;">SmaxAi Restaurant</div>
<div class="t idl" style="left: 264.4px; font-size: 12.5px; top: 185.22px; letter-spacing: -1.16px;">ID:</div>
<div class="t idv2" style="left: 282px; font-size: 12.5px; top: 185.22px; letter-spacing: -0.16px;">fb793289723861509</div>
<div class="t cl" style="left: 467.2px; font-size: 15px; top: 161.4px; letter-spacing: -0.65px;">Close</div>
<div class="t au" style="left: 467.2px; font-size: 14px; top: 182.85px; letter-spacing: -0.3px;">automatically</div>
<svg style="left:564.5px;top:162.5px" width="13" height="13" viewBox="0 0 13 13" fill="none" stroke="#4b5060" stroke-width="1"><circle cx="6.500" cy="6.500" r="5.800"></circle><path d="M5.200 4.100v4.800l3.600-2.400z" stroke-width=".8" stroke-linejoin="round" fill="#6b7080"></path></svg>
<svg style="left:564.5px;top:182.6px" width="13" height="13" viewBox="0 0 13 13" fill="none" stroke="#4b5060" stroke-width="1"><circle cx="6.500" cy="6.500" r="5.800"></circle><rect x="4.100" y="4.100" width="4.800" height="4.800" rx="1" fill="#4b5060" stroke="none"></rect></svg>
<div class="t tx" style="left: 587.8px; font-size: 13.6px; top: 162.39px; letter-spacing: -0.09px;">12/11/2025, 21:40</div>
<div class="t tx" style="left: 587.8px; font-size: 13.6px; top: 182.59px; letter-spacing: -0.09px;">12/11/2025, 21:52</div>
<div class="abs" style="left:711px;top:166.5px;width:1px;height:25px;background:#d5d8e0"></div>
<div class="t du" style="left: 720px; font-size: 13.5px; top: 172.67px; letter-spacing: -0.09px;">12m</div>
<div class="t tx" style="left: 1305.4px; font-size: 15px; top: 171.4px; letter-spacing: -0.65px;">ĐIỂM: 10 - Phục vụ tốt</div>
<div class="t tx" style="left: 1505.7px; font-size: 15px; top: 171.4px; letter-spacing: -0.75px;">Không</div>
<div class="abs" style="left:0;top:220px;width:1546px;height:1px;background:#f2f3f6"></div>
<div class="abs av" style="left:9px;top:236.3px"><svg width="32" height="32" viewBox="0 0 32 32"><rect width="32" height="32" fill="#1a110b"></rect><ellipse cx="7" cy="9" rx="4" ry="6" fill="#5a3e22"></ellipse><rect x="12" y="6" width="3" height="12" fill="#4a3a24"></rect><rect x="20" y="9" width="8" height="8" fill="#1e2c48"></rect><ellipse cx="17" cy="21" rx="7" ry="4" fill="#4a1616"></ellipse><ellipse cx="16" cy="28" rx="12" ry="5" fill="#120c08"></ellipse></svg></div>
<div class="t nm" style="left: 48px; font-size: 14.5px; top: 235.43px; letter-spacing: -0.22px;">Vu Minh</div>
<div class="t idl" style="left: 48px; font-size: 12.5px; top: 256.12px; letter-spacing: -1.16px;">ID:</div>
<div class="t idv" style="left: 65px; font-size: 12.5px; top: 256.12px; letter-spacing: -0.48px;">fb3241732366791</div>
<svg style="left:188.5px;top:244.5px" width="3" height="11" viewBox="0 0 3 11" fill="#252f4a"><circle cx="1.5" cy="1.5" r="1.2"></circle><circle cx="1.5" cy="5.5" r="1.2"></circle><circle cx="1.5" cy="9.5" r="1.2"></circle></svg>
<div class="abs ch" style="left:224.2px;top:233.4px"><svg style="left:5.500px;top:1.500px" width="21" height="27" viewBox="0 0 21 27"><path d="M10.500 7.500c-4.800 0-8.300 3.600-8.300 8.400v2.300h16.600v-2.300c0-4.800-3.500-8.400-8.300-8.400z" fill="#f0a818"></path><rect x=".8" y="19" width="19.400" height="2.200" rx="1.100" fill="#f0a818"></rect><path d="M7.500 5c-.3-1.200.9-1.600.5-3M10.500 5c-.3-1.200.9-1.600.5-3M13.500 5c-.3-1.200.9-1.600.5-3" stroke="#c98a14" stroke-width=".9" fill="none" stroke-linecap="round"></path><path d="M9.200 10.500v3M8.200 10.500v1.700c0 .6.400 1 1 1s1-.4 1-1v-1.700M9.200 13.200v4M12.300 10.500v6.700M12.300 10.500c1 .5 1.200 2.400 0 3.300" stroke="#2b2b2b" stroke-width=".8" fill="none" stroke-linecap="round"></path><path d="M5 23.500h2M8.500 23.500h4M14 23.500h2" stroke="#c98a14" stroke-width=".8"></path></svg></div>
<div class="abs fb" style="left:236.3px;top:251.2px"><svg style="left:0;top:0" width="20" height="20" viewBox="0 0 20 20"><circle cx="10" cy="10" r="9" fill="#1877f2"></circle><path d="M11 17.800v-6h2l.35-2.400H11V7.900c0-.7.300-1.200 1.300-1.200h1.200V4.600c-.3 0-1-.1-1.900-.1-1.900 0-3.100 1.100-3.100 3.200v1.700H6.400v2.400h2.100v6z" fill="#fff"></path></svg></div>
<div class="t tx" style="left: 264.4px; font-size: 15px; top: 235px; letter-spacing: -0.6px;">SmaxAi Restaurant</div>
<div class="t idl" style="left: 264.4px; font-size: 12.5px; top: 256.72px; letter-spacing: -1.16px;">ID:</div>
<div class="t idv2" style="left: 282px; font-size: 12.5px; top: 256.72px; letter-spacing: -0.16px;">fb793289723861509</div>
<div class="t cl" style="left: 467.2px; font-size: 15px; top: 232.9px; letter-spacing: -0.65px;">Close</div>
<div class="t au" style="left: 467.2px; font-size: 14px; top: 254.35px; letter-spacing: -0.3px;">automatically</div>
<svg style="left:564.5px;top:234.0px" width="13" height="13" viewBox="0 0 13 13" fill="none" stroke="#4b5060" stroke-width="1"><circle cx="6.500" cy="6.500" r="5.800"></circle><path d="M5.200 4.100v4.800l3.600-2.400z" stroke-width=".8" stroke-linejoin="round" fill="#6b7080"></path></svg>
<svg style="left:564.5px;top:254.1px" width="13" height="13" viewBox="0 0 13 13" fill="none" stroke="#4b5060" stroke-width="1"><circle cx="6.500" cy="6.500" r="5.800"></circle><rect x="4.100" y="4.100" width="4.800" height="4.800" rx="1" fill="#4b5060" stroke="none"></rect></svg>
<div class="t tx" style="left: 587.8px; font-size: 13.6px; top: 233.89px; letter-spacing: -0.09px;">12/11/2025, 21:40</div>
<div class="t tx" style="left: 587.8px; font-size: 13.6px; top: 254.09px; letter-spacing: -0.09px;">12/11/2025, 21:52</div>
<div class="abs" style="left:711px;top:238.0px;width:1px;height:25px;background:#d5d8e0"></div>
<div class="t du" style="left: 720px; font-size: 13.5px; top: 244.17px; letter-spacing: -0.09px;">12m</div>
<div class="t tx" style="left: 1305.4px; font-size: 15px; top: 242.9px; letter-spacing: -0.57px;">8 - Phục vụ tốt</div>
<div class="t tx" style="left: 1505.7px; font-size: 15px; top: 242.9px; letter-spacing: -0.72px;">KHÔNG</div>
<div class="abs" style="left:0;top:282px;width:1546px;height:1px;background:#f2f3f6"></div>
<div class="abs av" style="left:9px;top:302.3px"><svg width="32" height="32" viewBox="0 0 32 32"><rect width="32" height="32" fill="#3e3220"></rect><rect x="0" y="0" width="9" height="32" fill="#5e4a2c"></rect><rect x="0" y="24" width="32" height="8" fill="#3c3c22"></rect><ellipse cx="15.500" cy="15" rx="5" ry="8" fill="#b88a5a"></ellipse><circle cx="12.500" cy="9.500" r="3.200" fill="#a06a3c"></circle><circle cx="17.500" cy="11" r="3" fill="#c89a6a"></circle><ellipse cx="17" cy="21" rx="3" ry="5" fill="#c8a070"></ellipse></svg></div>
<div class="t nm" style="left: 48px; font-size: 14.5px; top: 301.43px; letter-spacing: -0.19px;">Jerry</div>
<div class="t idl" style="left: 48px; font-size: 12.5px; top: 322.12px; letter-spacing: -1.16px;">ID:</div>
<div class="t idv" style="left: 65px; font-size: 12.5px; top: 322.12px; letter-spacing: -0.48px;">fb7932897238615</div>
<svg style="left:188.5px;top:310.5px" width="3" height="11" viewBox="0 0 3 11" fill="#252f4a"><circle cx="1.5" cy="1.5" r="1.2"></circle><circle cx="1.5" cy="5.5" r="1.2"></circle><circle cx="1.5" cy="9.5" r="1.2"></circle></svg>
<div class="abs ch" style="left:224.2px;top:299.4px"><svg style="left:5.500px;top:1.500px" width="21" height="27" viewBox="0 0 21 27"><path d="M10.500 7.500c-4.800 0-8.300 3.600-8.300 8.400v2.300h16.600v-2.300c0-4.800-3.500-8.400-8.300-8.400z" fill="#f0a818"></path><rect x=".8" y="19" width="19.400" height="2.200" rx="1.100" fill="#f0a818"></rect><path d="M7.500 5c-.3-1.200.9-1.600.5-3M10.500 5c-.3-1.200.9-1.600.5-3M13.500 5c-.3-1.200.9-1.600.5-3" stroke="#c98a14" stroke-width=".9" fill="none" stroke-linecap="round"></path><path d="M9.200 10.500v3M8.200 10.500v1.700c0 .6.400 1 1 1s1-.4 1-1v-1.700M9.200 13.200v4M12.300 10.500v6.700M12.300 10.500c1 .5 1.200 2.400 0 3.300" stroke="#2b2b2b" stroke-width=".8" fill="none" stroke-linecap="round"></path><path d="M5 23.500h2M8.500 23.500h4M14 23.500h2" stroke="#c98a14" stroke-width=".8"></path></svg></div>
<div class="abs fb" style="left:236.3px;top:317.2px"><svg style="left:0;top:0" width="20" height="20" viewBox="0 0 20 20"><circle cx="10" cy="10" r="9" fill="#1877f2"></circle><path d="M11 17.800v-6h2l.35-2.400H11V7.900c0-.7.300-1.200 1.300-1.200h1.200V4.600c-.3 0-1-.1-1.900-.1-1.900 0-3.100 1.100-3.100 3.200v1.700H6.400v2.400h2.100v6z" fill="#fff"></path></svg></div>
<div class="t tx" style="left: 264.4px; font-size: 15px; top: 301px; letter-spacing: -0.6px;">SmaxAi Restaurant</div>
<div class="t idl" style="left: 264.4px; font-size: 12.5px; top: 322.72px; letter-spacing: -1.16px;">ID:</div>
<div class="t idv2" style="left: 282px; font-size: 12.5px; top: 322.72px; letter-spacing: -0.16px;">fb793289723861509</div>
<div class="t cl" style="left: 467.2px; font-size: 15px; top: 298.9px; letter-spacing: -0.65px;">Close</div>
<div class="t au" style="left: 467.2px; font-size: 14px; top: 320.35px; letter-spacing: -0.3px;">automatically</div>
<svg style="left:564.5px;top:300.0px" width="13" height="13" viewBox="0 0 13 13" fill="none" stroke="#4b5060" stroke-width="1"><circle cx="6.500" cy="6.500" r="5.800"></circle><path d="M5.200 4.100v4.800l3.600-2.400z" stroke-width=".8" stroke-linejoin="round" fill="#6b7080"></path></svg>
<svg style="left:564.5px;top:320.1px" width="13" height="13" viewBox="0 0 13 13" fill="none" stroke="#4b5060" stroke-width="1"><circle cx="6.500" cy="6.500" r="5.800"></circle><rect x="4.100" y="4.100" width="4.800" height="4.800" rx="1" fill="#4b5060" stroke="none"></rect></svg>
<div class="t tx" style="left: 587.8px; font-size: 13.6px; top: 299.89px; letter-spacing: -0.09px;">12/11/2025, 21:40</div>
<div class="t tx" style="left: 587.8px; font-size: 13.6px; top: 320.09px; letter-spacing: -0.09px;">12/11/2025, 21:52</div>
<div class="abs" style="left:711px;top:304.0px;width:1px;height:25px;background:#d5d8e0"></div>
<div class="t du" style="left: 720px; font-size: 13.5px; top: 310.17px; letter-spacing: -0.09px;">12m</div>
<div class="t tx" style="left: 1305.4px; font-size: 15px; top: 308.9px; letter-spacing: -0.53px;">8 - Phục vụ đầy đủ thông tin</div>
<div class="t tx" style="left: 1505.7px; font-size: 15px; top: 298.6px; letter-spacing: -0.31px;">Lặp lại</div>
<div class="t tx" style="left: 1505.7px; font-size: 15px; top: 319.6px; letter-spacing: -0.44px;">người viết</div>
<div class="abs" style="left:0;top:352px;width:1546px;height:1px;background:#f2f3f6"></div>
<div class="abs av" style="left:9px;top:367.8px"><svg width="32" height="32" viewBox="0 0 32 32"><rect width="32" height="32" fill="#1a110b"></rect><ellipse cx="7" cy="9" rx="4" ry="6" fill="#5a3e22"></ellipse><rect x="12" y="6" width="3" height="12" fill="#4a3a24"></rect><rect x="20" y="9" width="8" height="8" fill="#1e2c48"></rect><ellipse cx="17" cy="21" rx="7" ry="4" fill="#4a1616"></ellipse><ellipse cx="16" cy="28" rx="12" ry="5" fill="#120c08"></ellipse></svg></div>
<div class="t nm" style="left: 48px; font-size: 14.5px; top: 366.93px; letter-spacing: -0.22px;">Vu Minh</div>
<div class="t idl" style="left: 48px; font-size: 12.5px; top: 387.22px; letter-spacing: -1.16px;">ID:</div>
<div class="t idv" style="left: 65px; font-size: 12.5px; top: 387.22px; letter-spacing: -0.48px;">fb3241732366791</div>
<svg style="left:188.5px;top:377.0px" width="3" height="11" viewBox="0 0 3 11" fill="#252f4a"><circle cx="1.5" cy="1.5" r="1.2"></circle><circle cx="1.5" cy="5.5" r="1.2"></circle><circle cx="1.5" cy="9.5" r="1.2"></circle></svg>
<div class="abs ch" style="left:224.2px;top:364.9px"><svg style="left:5.500px;top:1.500px" width="21" height="27" viewBox="0 0 21 27"><path d="M10.500 7.500c-4.800 0-8.300 3.600-8.300 8.400v2.300h16.600v-2.300c0-4.800-3.500-8.400-8.300-8.400z" fill="#f0a818"></path><rect x=".8" y="19" width="19.400" height="2.200" rx="1.100" fill="#f0a818"></rect><path d="M7.500 5c-.3-1.200.9-1.600.5-3M10.500 5c-.3-1.200.9-1.600.5-3M13.500 5c-.3-1.200.9-1.600.5-3" stroke="#c98a14" stroke-width=".9" fill="none" stroke-linecap="round"></path><path d="M9.200 10.500v3M8.200 10.500v1.700c0 .6.400 1 1 1s1-.4 1-1v-1.700M9.200 13.200v4M12.300 10.500v6.700M12.300 10.500c1 .5 1.200 2.400 0 3.300" stroke="#2b2b2b" stroke-width=".8" fill="none" stroke-linecap="round"></path><path d="M5 23.500h2M8.500 23.500h4M14 23.500h2" stroke="#c98a14" stroke-width=".8"></path></svg></div>
<div class="abs fb" style="left:236.3px;top:382.7px"><svg style="left:0;top:0" width="20" height="20" viewBox="0 0 20 20"><circle cx="10" cy="10" r="9" fill="#1877f2"></circle><path d="M11 17.800v-6h2l.35-2.400H11V7.900c0-.7.300-1.200 1.300-1.200h1.200V4.600c-.3 0-1-.1-1.900-.1-1.900 0-3.100 1.100-3.100 3.200v1.700H6.400v2.400h2.100v6z" fill="#fff"></path></svg></div>
<div class="t tx" style="left: 264.4px; font-size: 15px; top: 366.8px; letter-spacing: -0.6px;">SmaxAi Restaurant</div>
<div class="t idl" style="left: 264.4px; font-size: 12.5px; top: 389.22px; letter-spacing: -1.16px;">ID:</div>
<div class="t idv2" style="left: 282px; font-size: 12.5px; top: 389.22px; letter-spacing: -0.16px;">fb793289723861509</div>
<div class="t cl" style="left: 467.2px; font-size: 15px; top: 365.4px; letter-spacing: -0.65px;">Close</div>
<div class="t au" style="left: 467.2px; font-size: 14px; top: 386.85px; letter-spacing: -0.3px;">automatically</div>
<svg style="left:564.5px;top:366.5px" width="13" height="13" viewBox="0 0 13 13" fill="none" stroke="#4b5060" stroke-width="1"><circle cx="6.500" cy="6.500" r="5.800"></circle><path d="M5.200 4.100v4.800l3.600-2.400z" stroke-width=".8" stroke-linejoin="round" fill="#6b7080"></path></svg>
<svg style="left:564.5px;top:386.6px" width="13" height="13" viewBox="0 0 13 13" fill="none" stroke="#4b5060" stroke-width="1"><circle cx="6.500" cy="6.500" r="5.800"></circle><rect x="4.100" y="4.100" width="4.800" height="4.800" rx="1" fill="#4b5060" stroke="none"></rect></svg>
<div class="t tx" style="left: 587.8px; font-size: 13.6px; top: 366.39px; letter-spacing: -0.09px;">12/11/2025, 21:40</div>
<div class="t tx" style="left: 587.8px; font-size: 13.6px; top: 386.59px; letter-spacing: -0.09px;">12/11/2025, 21:52</div>
<div class="abs" style="left:711px;top:370.5px;width:1px;height:25px;background:#d5d8e0"></div>
<div class="t du" style="left: 720px; font-size: 13.5px; top: 376.67px; letter-spacing: -0.09px;">12m</div>
<div class="t tx" style="left: 1305.4px; font-size: 15px; top: 375.4px; letter-spacing: -0.69px;">8 - Tư vấn đầy đủ</div>
<div class="t tx" style="left: 1505.7px; font-size: 15px; top: 375.4px; letter-spacing: -0.72px;">KHÔNG</div>
<div class="abs" style="left:0;top:415px;width:1546px;height:1px;background:#f2f3f6"></div>
<div class="abs av" style="left:9px;top:439.3px"><svg width="32" height="32" viewBox="0 0 32 32"><rect width="32" height="32" fill="#16b2e2"></rect><path d="M2 32V21c0-3 3-5 6-5h6c3 0 6 2 6 5v11z" fill="#e3202e"></path><circle cx="11" cy="10.500" r="4.600" fill="#e9b48c"></circle><path d="M6.300 9.500c0-3.500 2.200-5.500 4.800-5.500s4.700 2 4.600 5c-2-1.800-6-2.400-9.400.5z" fill="#1e1a1a"></path><path d="M17 32V24c0-2.500 2-4 5-4s6 1.500 6 4v8z" fill="#f3c41e"></path><path d="M18 13.500c0-3 1.800-4.800 4.300-4.800s4.300 1.800 4.300 4.800v7h-8.600z" fill="#201a18"></path><circle cx="22.300" cy="14.800" r="3.300" fill="#e9b48c"></circle><rect x="8" y="22.500" width="17" height="6" rx="1" fill="#f7d43a"></rect><path d="M8 24.500h17M8 26.500h17" stroke="#ee7a22" stroke-width=".8"></path><circle cx="16.500" cy="25.500" r="4" fill="#22b3a6"></circle><circle cx="16.500" cy="25.500" r="2" fill="#8ee0d8"></circle></svg></div>
<div class="t nm" style="left: 48px; font-size: 14.5px; top: 429.23px; letter-spacing: -0.25px;">Nguyễn</div>
<div class="t nm" style="left: 48px; font-size: 14.5px; top: 449.73px; letter-spacing: -0.27px;">Hùng</div>
<div class="t idl" style="left: 48px; font-size: 12.5px; top: 470.42px; letter-spacing: -1.16px;">ID:</div>
<div class="t idv" style="left: 65px; font-size: 12.5px; top: 470.42px; letter-spacing: -0.48px;">fb2508037458491</div>
<svg style="left:188.5px;top:448.5px" width="3" height="11" viewBox="0 0 3 11" fill="#252f4a"><circle cx="1.5" cy="1.5" r="1.2"></circle><circle cx="1.5" cy="5.5" r="1.2"></circle><circle cx="1.5" cy="9.5" r="1.2"></circle></svg>
<div class="abs ch" style="left:224.2px;top:436.4px"><svg style="left:5.500px;top:1.500px" width="21" height="27" viewBox="0 0 21 27"><path d="M10.500 7.500c-4.800 0-8.300 3.600-8.300 8.400v2.300h16.600v-2.300c0-4.800-3.500-8.400-8.300-8.400z" fill="#f0a818"></path><rect x=".8" y="19" width="19.400" height="2.200" rx="1.100" fill="#f0a818"></rect><path d="M7.500 5c-.3-1.200.9-1.600.5-3M10.500 5c-.3-1.200.9-1.600.5-3M13.500 5c-.3-1.200.9-1.600.5-3" stroke="#c98a14" stroke-width=".9" fill="none" stroke-linecap="round"></path><path d="M9.200 10.500v3M8.200 10.500v1.700c0 .6.400 1 1 1s1-.4 1-1v-1.700M9.200 13.200v4M12.300 10.500v6.700M12.300 10.500c1 .5 1.200 2.400 0 3.300" stroke="#2b2b2b" stroke-width=".8" fill="none" stroke-linecap="round"></path><path d="M5 23.500h2M8.500 23.500h4M14 23.500h2" stroke="#c98a14" stroke-width=".8"></path></svg></div>
<div class="abs fb" style="left:236.3px;top:454.2px"><svg style="left:0;top:0" width="20" height="20" viewBox="0 0 20 20"><circle cx="10" cy="10" r="9" fill="#1877f2"></circle><path d="M11 17.800v-6h2l.35-2.400H11V7.900c0-.7.300-1.200 1.300-1.200h1.200V4.600c-.3 0-1-.1-1.900-.1-1.900 0-3.100 1.100-3.100 3.200v1.700H6.400v2.400h2.100v6z" fill="#fff"></path></svg></div>
<div class="t tx" style="left: 264.4px; font-size: 15px; top: 438.3px; letter-spacing: -0.6px;">SmaxAi Restaurant</div>
<div class="t idl" style="left: 264.4px; font-size: 12.5px; top: 460.72px; letter-spacing: -1.16px;">ID:</div>
<div class="t idv2" style="left: 282px; font-size: 12.5px; top: 460.72px; letter-spacing: -0.16px;">fb793289723861509</div>
<div class="t cl" style="left: 467.2px; font-size: 15px; top: 436.9px; letter-spacing: -0.65px;">Close</div>
<div class="t au" style="left: 467.2px; font-size: 14px; top: 458.35px; letter-spacing: -0.3px;">automatically</div>
<svg style="left:564.5px;top:438.0px" width="13" height="13" viewBox="0 0 13 13" fill="none" stroke="#4b5060" stroke-width="1"><circle cx="6.500" cy="6.500" r="5.800"></circle><path d="M5.200 4.100v4.800l3.600-2.400z" stroke-width=".8" stroke-linejoin="round" fill="#6b7080"></path></svg>
<svg style="left:564.5px;top:458.1px" width="13" height="13" viewBox="0 0 13 13" fill="none" stroke="#4b5060" stroke-width="1"><circle cx="6.500" cy="6.500" r="5.800"></circle><rect x="4.100" y="4.100" width="4.800" height="4.800" rx="1" fill="#4b5060" stroke="none"></rect></svg>
<div class="t tx" style="left: 587.8px; font-size: 13.6px; top: 437.89px; letter-spacing: -0.09px;">12/11/2025, 21:40</div>
<div class="t tx" style="left: 587.8px; font-size: 13.6px; top: 458.09px; letter-spacing: -0.09px;">12/11/2025, 21:52</div>
<div class="abs" style="left:711px;top:442.0px;width:1px;height:25px;background:#d5d8e0"></div>
<div class="t du" style="left: 720px; font-size: 13.5px; top: 448.17px; letter-spacing: -0.09px;">12m</div>
<div class="t tx" style="left: 1305.4px; font-size: 15px; top: 436.6px; letter-spacing: -0.62px;">ĐIỂM: 5 - Xin lỗi và hỏi</div>
<div class="t tx" style="left: 1305.4px; font-size: 15px; top: 457.6px; letter-spacing: -0.7px;">nguyên nhân</div>
<div class="t tx" style="left: 1505.7px; font-size: 15px; top: 436.6px; letter-spacing: -0.75px;">Không</div>
<div class="t tx" style="left: 1505.7px; font-size: 15px; top: 457.6px; letter-spacing: -0.49px;">gây khó</div>
<div class="abs" style="left:0;top:495px;width:1546px;height:1px;background:#f2f3f6"></div>
<div class="abs av" style="left:9px;top:511.3px"><svg width="32" height="32" viewBox="0 0 32 32"><rect width="32" height="32" fill="#878d92"></rect><rect y="14" width="32" height="18" fill="#5d5f4c"></rect><rect x="20" y="10" width="10" height="4.500" fill="#a8acb0"></rect><path d="M0 32V20c0-3 3-4 6-4h5c3 0 4 2 4 5v11z" fill="#2c2e34"></path><circle cx="9.500" cy="12" r="5.500" fill="#3c3e42"></circle><ellipse cx="10.500" cy="11.200" rx="5.200" ry="2.400" fill="#ff38c2"></ellipse></svg></div>
<div class="t nm" style="left: 48px; font-size: 14.5px; top: 510.43px; letter-spacing: -0.4px;">Đông Nguyễn</div>
<div class="t idl" style="left: 48px; font-size: 12.5px; top: 530.72px; letter-spacing: -1.16px;">ID:</div>
<div class="t idv" style="left: 65px; font-size: 12.5px; top: 530.72px; letter-spacing: -0.27px;">fb324173236679<span class="el">...</span></div>
<svg style="left:188.5px;top:520.5px" width="3" height="11" viewBox="0 0 3 11" fill="#252f4a"><circle cx="1.5" cy="1.5" r="1.2"></circle><circle cx="1.5" cy="5.5" r="1.2"></circle><circle cx="1.5" cy="9.5" r="1.2"></circle></svg>
<div class="abs ch" style="left:224.2px;top:508.4px"><svg style="left:5.500px;top:1.500px" width="21" height="27" viewBox="0 0 21 27"><path d="M10.500 7.500c-4.800 0-8.300 3.600-8.300 8.400v2.300h16.600v-2.300c0-4.800-3.500-8.400-8.300-8.400z" fill="#f0a818"></path><rect x=".8" y="19" width="19.400" height="2.200" rx="1.100" fill="#f0a818"></rect><path d="M7.500 5c-.3-1.200.9-1.600.5-3M10.500 5c-.3-1.200.9-1.600.5-3M13.500 5c-.3-1.200.9-1.600.5-3" stroke="#c98a14" stroke-width=".9" fill="none" stroke-linecap="round"></path><path d="M9.200 10.500v3M8.200 10.500v1.700c0 .6.400 1 1 1s1-.4 1-1v-1.700M9.200 13.200v4M12.300 10.500v6.700M12.300 10.500c1 .5 1.200 2.400 0 3.300" stroke="#2b2b2b" stroke-width=".8" fill="none" stroke-linecap="round"></path><path d="M5 23.500h2M8.500 23.500h4M14 23.500h2" stroke="#c98a14" stroke-width=".8"></path></svg></div>
<div class="abs fb" style="left:236.3px;top:526.2px"><svg style="left:0;top:0" width="20" height="20" viewBox="0 0 20 20"><circle cx="10" cy="10" r="9" fill="#1877f2"></circle><path d="M11 17.800v-6h2l.35-2.400H11V7.900c0-.7.300-1.200 1.300-1.200h1.200V4.600c-.3 0-1-.1-1.900-.1-1.900 0-3.100 1.100-3.100 3.200v1.700H6.400v2.400h2.100v6z" fill="#fff"></path></svg></div>
<div class="t tx" style="left: 264.4px; font-size: 15px; top: 510.3px; letter-spacing: -0.6px;">SmaxAi Restaurant</div>
<div class="t idl" style="left: 264.4px; font-size: 12.5px; top: 532.72px; letter-spacing: -1.16px;">ID:</div>
<div class="t idv2" style="left: 282px; font-size: 12.5px; top: 532.72px; letter-spacing: -0.16px;">fb793289723861509</div>
<div class="t cl" style="left: 467.2px; font-size: 15px; top: 508.9px; letter-spacing: -0.65px;">Close</div>
<div class="t au" style="left: 467.2px; font-size: 14px; top: 530.35px; letter-spacing: -0.3px;">automatically</div>
<svg style="left:564.5px;top:510.0px" width="13" height="13" viewBox="0 0 13 13" fill="none" stroke="#4b5060" stroke-width="1"><circle cx="6.500" cy="6.500" r="5.800"></circle><path d="M5.200 4.100v4.800l3.600-2.400z" stroke-width=".8" stroke-linejoin="round" fill="#6b7080"></path></svg>
<svg style="left:564.5px;top:530.1px" width="13" height="13" viewBox="0 0 13 13" fill="none" stroke="#4b5060" stroke-width="1"><circle cx="6.500" cy="6.500" r="5.800"></circle><rect x="4.100" y="4.100" width="4.800" height="4.800" rx="1" fill="#4b5060" stroke="none"></rect></svg>
<div class="t tx" style="left: 587.8px; font-size: 13.6px; top: 509.89px; letter-spacing: -0.09px;">12/11/2025, 21:29</div>
<div class="t tx" style="left: 587.8px; font-size: 13.6px; top: 530.09px; letter-spacing: -0.09px;">12/11/2025, 21:34</div>
<div class="abs" style="left:711px;top:514.0px;width:1px;height:25px;background:#d5d8e0"></div>
<div class="t du" style="left: 720px; font-size: 13.5px; top: 520.17px; letter-spacing: -0.08px;">5m</div>
<div class="t tx" style="left: 868.8px; font-size: 15px; top: 518.9px; letter-spacing: -1.13px;">KHÔNG CÓ CHI NHÁNH</div>
<div class="t tx" style="left: 1068.7px; font-size: 15px; top: 518.9px; letter-spacing: -1.42px;">KHÔNG CÓ YÊU CẦU</div>
<div class="t tx" style="left: 1305.4px; font-size: 15px; top: 518.9px; letter-spacing: -0.7px;">ĐIỂM: 10 - Rất hài lòng</div>
<div class="t tx" style="left: 1505.7px; font-size: 15px; top: 518.9px; letter-spacing: -0.75px;">Không</div>
<div class="abs" style="left:0;top:559px;width:1546px;height:1px;background:#f2f3f6"></div>
<div class="abs av" style="left:9px;top:576.8px"><svg width="32" height="32" viewBox="0 0 32 32"><rect width="32" height="32" fill="#878d92"></rect><rect y="14" width="32" height="18" fill="#5d5f4c"></rect><rect x="20" y="10" width="10" height="4.500" fill="#a8acb0"></rect><path d="M0 32V20c0-3 3-4 6-4h5c3 0 4 2 4 5v11z" fill="#2c2e34"></path><circle cx="9.500" cy="12" r="5.500" fill="#3c3e42"></circle><ellipse cx="10.500" cy="11.200" rx="5.200" ry="2.400" fill="#ff38c2"></ellipse></svg></div>
<div class="t nm" style="left: 48px; font-size: 14.5px; top: 576.93px; letter-spacing: -0.4px;">Đông Nguyễn</div>
<div class="t idl" style="left: 48px; font-size: 12.5px; top: 597.22px; letter-spacing: -1.16px;">ID:</div>
<div class="t idv" style="left: 65px; font-size: 12.5px; top: 597.22px; letter-spacing: -0.27px;">fb324173236679<span class="el">...</span></div>
<svg style="left:188.5px;top:587.0px" width="3" height="11" viewBox="0 0 3 11" fill="#252f4a"><circle cx="1.5" cy="1.5" r="1.2"></circle><circle cx="1.5" cy="5.5" r="1.2"></circle><circle cx="1.5" cy="9.5" r="1.2"></circle></svg>
<div class="abs ch" style="left:224.2px;top:573.9px"><svg style="left:5.500px;top:1.500px" width="21" height="27" viewBox="0 0 21 27"><path d="M10.500 7.500c-4.800 0-8.300 3.600-8.300 8.400v2.300h16.600v-2.300c0-4.800-3.500-8.400-8.300-8.400z" fill="#f0a818"></path><rect x=".8" y="19" width="19.400" height="2.200" rx="1.100" fill="#f0a818"></rect><path d="M7.500 5c-.3-1.200.9-1.600.5-3M10.500 5c-.3-1.200.9-1.600.5-3M13.500 5c-.3-1.200.9-1.600.5-3" stroke="#c98a14" stroke-width=".9" fill="none" stroke-linecap="round"></path><path d="M9.200 10.500v3M8.200 10.500v1.700c0 .6.400 1 1 1s1-.4 1-1v-1.700M9.200 13.200v4M12.300 10.500v6.700M12.300 10.500c1 .5 1.200 2.400 0 3.300" stroke="#2b2b2b" stroke-width=".8" fill="none" stroke-linecap="round"></path><path d="M5 23.500h2M8.500 23.500h4M14 23.500h2" stroke="#c98a14" stroke-width=".8"></path></svg></div>
<div class="abs fb" style="left:236.3px;top:591.7px"><svg style="left:0;top:0" width="20" height="20" viewBox="0 0 20 20"><circle cx="10" cy="10" r="9" fill="#1877f2"></circle><path d="M11 17.800v-6h2l.35-2.400H11V7.900c0-.7.300-1.200 1.300-1.200h1.200V4.600c-.3 0-1-.1-1.900-.1-1.900 0-3.100 1.100-3.100 3.200v1.700H6.400v2.400h2.100v6z" fill="#fff"></path></svg></div>
<div class="t tx" style="left: 264.4px; font-size: 15px; top: 576.1px; letter-spacing: -0.6px;">SmaxAi Restaurant</div>
<div class="t idl" style="left: 264.4px; font-size: 12.5px; top: 599.22px; letter-spacing: -1.16px;">ID:</div>
<div class="t idv2" style="left: 282px; font-size: 12.5px; top: 599.22px; letter-spacing: -0.16px;">fb793289723861509</div>
<div class="t cl" style="left: 467.2px; font-size: 15px; top: 575.4px; letter-spacing: -0.65px;">Close</div>
<div class="t au" style="left: 467.2px; font-size: 14px; top: 596.85px; letter-spacing: -0.3px;">automatically</div>
<svg style="left:564.5px;top:576.5px" width="13" height="13" viewBox="0 0 13 13" fill="none" stroke="#4b5060" stroke-width="1"><circle cx="6.500" cy="6.500" r="5.800"></circle><path d="M5.200 4.100v4.800l3.600-2.400z" stroke-width=".8" stroke-linejoin="round" fill="#6b7080"></path></svg>
<svg style="left:564.5px;top:596.6px" width="13" height="13" viewBox="0 0 13 13" fill="none" stroke="#4b5060" stroke-width="1"><circle cx="6.500" cy="6.500" r="5.800"></circle><rect x="4.100" y="4.100" width="4.800" height="4.800" rx="1" fill="#4b5060" stroke="none"></rect></svg>
<div class="t tx" style="left: 587.8px; font-size: 13.6px; top: 576.39px; letter-spacing: -0.03px;">12/11/2025, 21:11</div>
<div class="t tx" style="left: 587.8px; font-size: 13.6px; top: 596.59px; letter-spacing: -0.09px;">12/11/2025, 21:20</div>
<div class="abs" style="left:711px;top:580.5px;width:1px;height:25px;background:#d5d8e0"></div>
<div class="t du" style="left: 720px; font-size: 13.5px; top: 576.57px; letter-spacing: -0.08px;">8m</div>
<div class="t du" style="left: 720px; font-size: 13.5px; top: 595.77px; letter-spacing: -0.09px;">53s</div>
<div class="t tx" style="left: 868.8px; font-size: 15px; top: 585.4px; letter-spacing: -0.91px;">Ba Đình</div>
<div class="t tx" style="left: 1068.7px; font-size: 15px; top: 585.4px; letter-spacing: -0.63px;">Không có yêu cầu</div>
<div class="t tx" style="left: 1305.4px; font-size: 15px; top: 585.4px; letter-spacing: -0.53px;">8 - Phục vụ tốt</div>
<div class="t tx" style="left: 1505.7px; font-size: 15px; top: 575.1px; letter-spacing: -0.31px;">Lặp lại</div>
<div class="t tx" style="left: 1505.7px; font-size: 15px; top: 596.1px; letter-spacing: -0.68px;">lần</div>
<div class="abs" style="left:0;top:627px;width:1546px;height:1px;background:#f2f3f6"></div>
<div class="abs av" style="left:9px;top:643.3px"><svg width="32" height="32" viewBox="0 0 32 32"><rect width="32" height="32" fill="#a9d9f8"></rect><rect y="17" width="32" height="15" fill="#dfe9f0"></rect><path d="M7.500 5l1.300 4v11H6.200V9z" fill="#71869c"></path><rect x="2" y="14" width="3.500" height="6" fill="#8a9cae"></rect><rect x="20" y="11" width="4" height="9" fill="#8094a8"></rect><rect x="24.500" y="13" width="5" height="7" fill="#93a5b6"></rect><rect y="20" width="32" height="3" fill="#5f7a6a"></rect><path d="M8.500 32V23c0-3 2-4.500 4.500-4.500h6c2.500 0 4.500 1.500 4.500 4.500v9z" fill="#ebe7de"></path><circle cx="16" cy="13.800" r="3.300" fill="#dcae8c"></circle><path d="M12.500 13c0-2.800 1.500-4.300 3.600-4.300s3.600 1.500 3.500 4c-1.500-1.300-4.500-1.700-7.100.3z" fill="#1c1a1c"></path></svg></div>
<div class="t nm" style="left: 48px; font-size: 14.5px; top: 643.43px; letter-spacing: -0.47px;">Henry Dinh</div>
<div class="t idl" style="left: 48px; font-size: 12.5px; top: 663.72px; letter-spacing: -1.16px;">ID:</div>
<div class="t idv" style="left: 65px; font-size: 12.5px; top: 663.72px; letter-spacing: -0.27px;">fb250803745849<span class="el">...</span></div>
<svg style="left:188.5px;top:653.5px" width="3" height="11" viewBox="0 0 3 11" fill="#252f4a"><circle cx="1.5" cy="1.5" r="1.2"></circle><circle cx="1.5" cy="5.5" r="1.2"></circle><circle cx="1.5" cy="9.5" r="1.2"></circle></svg>
<div class="abs ch" style="left:224.2px;top:640.4px"><svg style="left:5.500px;top:1.500px" width="21" height="27" viewBox="0 0 21 27"><path d="M10.500 7.500c-4.800 0-8.300 3.600-8.300 8.400v2.300h16.600v-2.300c0-4.800-3.500-8.400-8.300-8.400z" fill="#f0a818"></path><rect x=".8" y="19" width="19.400" height="2.200" rx="1.100" fill="#f0a818"></rect><path d="M7.500 5c-.3-1.200.9-1.600.5-3M10.500 5c-.3-1.200.9-1.600.5-3M13.500 5c-.3-1.200.9-1.600.5-3" stroke="#c98a14" stroke-width=".9" fill="none" stroke-linecap="round"></path><path d="M9.200 10.500v3M8.200 10.500v1.700c0 .6.400 1 1 1s1-.4 1-1v-1.700M9.200 13.200v4M12.300 10.500v6.700M12.300 10.500c1 .5 1.200 2.400 0 3.300" stroke="#2b2b2b" stroke-width=".8" fill="none" stroke-linecap="round"></path><path d="M5 23.500h2M8.500 23.500h4M14 23.500h2" stroke="#c98a14" stroke-width=".8"></path></svg></div>
<div class="abs fb" style="left:236.3px;top:658.2px"><svg style="left:0;top:0" width="20" height="20" viewBox="0 0 20 20"><circle cx="10" cy="10" r="9" fill="#1877f2"></circle><path d="M11 17.800v-6h2l.35-2.400H11V7.900c0-.7.300-1.200 1.300-1.200h1.200V4.600c-.3 0-1-.1-1.900-.1-1.900 0-3.100 1.100-3.100 3.200v1.700H6.400v2.400h2.100v6z" fill="#fff"></path></svg></div>
<div class="t tx" style="left: 264.4px; font-size: 15px; top: 642.6px; letter-spacing: -0.6px;">SmaxAi Restaurant</div>
<div class="t idl" style="left: 264.4px; font-size: 12.5px; top: 665.72px; letter-spacing: -1.16px;">ID:</div>
<div class="t idv2" style="left: 282px; font-size: 12.5px; top: 665.72px; letter-spacing: -0.16px;">fb793289723861509</div>
<div class="t cl" style="left: 467.2px; font-size: 15px; top: 640.9px; letter-spacing: -0.65px;">Close</div>
<div class="t au" style="left: 467.2px; font-size: 14px; top: 663.35px; letter-spacing: -0.3px;">automatically</div>
<svg style="left:564.5px;top:643.0px" width="13" height="13" viewBox="0 0 13 13" fill="none" stroke="#4b5060" stroke-width="1"><circle cx="6.500" cy="6.500" r="5.800"></circle><path d="M5.200 4.100v4.800l3.600-2.400z" stroke-width=".8" stroke-linejoin="round" fill="#6b7080"></path></svg>
<svg style="left:564.5px;top:663.1px" width="13" height="13" viewBox="0 0 13 13" fill="none" stroke="#4b5060" stroke-width="1"><circle cx="6.500" cy="6.500" r="5.800"></circle><rect x="4.100" y="4.100" width="4.800" height="4.800" rx="1" fill="#4b5060" stroke="none"></rect></svg>
<div class="t tx" style="left: 587.8px; font-size: 13.6px; top: 642.89px; letter-spacing: -0.09px;">12/11/2025, 21:04</div>
<div class="t tx" style="left: 587.8px; font-size: 13.6px; top: 663.09px; letter-spacing: -0.03px;">12/11/2025, 21:11</div>
<div class="abs" style="left:711px;top:647.0px;width:1px;height:25px;background:#d5d8e0"></div>
<div class="t du" style="left: 720px; font-size: 13.5px; top: 643.07px; letter-spacing: -0.08px;">6m</div>
<div class="t du" style="left: 720px; font-size: 13.5px; top: 662.27px; letter-spacing: -0.09px;">53s</div>
<div class="t tx" style="left: 868.8px; font-size: 15px; top: 651.9px; letter-spacing: -0.91px;">Lê Văn Sỹ</div>
<div class="t tx" style="left: 1068.7px; font-size: 15px; top: 651.9px; letter-spacing: -0.67px;">Đặt bàn 15 người, ngày mai</div>
<div class="t tx" style="left: 1305.4px; font-size: 15px; top: 651.9px; letter-spacing: -0.62px;">8 - Hỗ trợ đầy đủ</div>
<div class="t tx" style="left: 1505.7px; font-size: 15px; top: 651.9px; letter-spacing: -0.75px;">Không</div>
</div>
<div class="abs" style="left:25px;top:787.5px;width:1038px;height:7px;border-radius:4px;background:#e7e7ea"></div>
<div class="abs" style="left:1571px;top:24px;width:7px;height:388px;border-radius:4px;background:#e7e7ea"></div>
</div>
<div id="ov"></div>
<div id="modal">
<div class="t b" style="color: rgb(27, 32, 48); left: 14.3px; font-size: 18.8px; top: 17.29px; letter-spacing: -0.05px;">Cài đặt nội dung</div>
<div class="panel" style="left:21px">
  <div class="t b" style="color: rgb(27, 32, 48); left: 14.2px; font-size: 17.5px; top: 26.79px; letter-spacing: -0.28px;">Topic</div>
  <div class="t ph" style="left: 175.6px; font-size: 15px; top: 25.9px; letter-spacing: -0.58px;">Tìm kiếm...</div>
  <svg style="left:315.5px;top:28.5px" width="13" height="13" viewBox="0 0 14 14" fill="none" stroke="#a7abbb" stroke-width="1.3" stroke-linecap="round"><circle cx="5.8" cy="5.8" r="4.6"></circle><path d="M9.3 9.3L13 13"></path></svg>
  <div class="it" style="top:77.0px">
    <div class="t a" style="left: 8.6px; font-size: 14.5px; top: 10.83px; letter-spacing: -0.28px;">#1: Khách đặt bàn</div>
    <div class="t d" style="left: 8.6px; font-size: 13px; top: 36.1px; letter-spacing: 0.07px;">Tạo lúc 22/09/2025, 10:51 AM</div>
  </div>
  <div class="it" style="top:142.6px">
    <div class="t a" style="left: 8.6px; font-size: 14.5px; top: 11.83px; letter-spacing: -0.35px;">#2: Feedback của khách</div>
    <div class="t d" style="left: 8.6px; font-size: 13px; top: 34.9px; letter-spacing: 0.1px;">Tạo lúc 22/09/2025, 11:03 AM</div>
  </div>
  <div class="add">
    <svg style="left:128px;top:12.300px" width="12" height="12" viewBox="0 0 12 12" stroke="#f26a4e" stroke-width="1.5" stroke-linecap="round"><path d="M6 1v10M1 6h10"></path></svg>
    <div class="t" style="left: 147px; font-size: 14.5px; top: 10.83px; letter-spacing: -0.56px;">Thêm mới</div>
  </div>
</div>
<div class="panel" style="left:391px">
  <div class="t b" style="color: rgb(27, 32, 48); left: 14.2px; font-size: 17.5px; top: 26.79px; letter-spacing: -0.24px;">Tags</div>
  <div class="t ph" style="left: 175.6px; font-size: 15px; top: 25.9px; letter-spacing: -0.58px;">Tìm kiếm...</div>
  <svg style="left:315.5px;top:28.5px" width="13" height="13" viewBox="0 0 14 14" fill="none" stroke="#a7abbb" stroke-width="1.3" stroke-linecap="round"><circle cx="5.8" cy="5.8" r="4.6"></circle><path d="M9.3 9.3L13 13"></path></svg>
  <div class="it" style="top:77.0px">
    <div class="t a" style="left: 8.6px; font-size: 14.5px; top: 10.83px; letter-spacing: -0.06px;">#1:</div>
    <svg style="left:35px;top:10.5px" width="14" height="14" viewBox="0 0 16 16"><path d="M1.2 1.8v5.3c0 .4.2.8.4 1l6.6 6.6c.6.6 1.5.6 2.1 0l4.4-4.4c.6-.6.6-1.5 0-2.1L8.100 1.600c-.3-.3-.6-.4-1-.4H1.800c-.3 0-.6.3-.6.6z" fill="#5a3da6"></path><circle cx="4.6" cy="4.600" r="1.2" fill="#fff"></circle></svg>
    <div class="t a" style="left: 56.6px; font-size: 14.5px; top: 10.83px; letter-spacing: -0.2px;">đặt bàn thành công</div>
    <div class="t d" style="left: 8.6px; font-size: 13px; top: 36.1px; letter-spacing: 0.07px;">Tạo lúc 22/09/2025, 10:52 AM</div>
  </div>
  <div class="it" style="top:142.6px;background:#f4f5f9;border-color:#f4f5f9">
    <div class="t a" style="left: 8.6px; font-size: 14.5px; top: 11.83px; letter-spacing: -0.06px;">#2:</div>
    <svg style="left:35px;top:10.5px" width="14" height="14" viewBox="0 0 16 16"><path d="M1.2 1.8v5.3c0 .4.2.8.4 1l6.6 6.6c.6.6 1.5.6 2.1 0l4.4-4.4c.6-.6.6-1.5 0-2.1L8.100 1.600c-.3-.3-.6-.4-1-.4H1.800c-.3 0-.6.3-.6.6z" fill="#a65555"></path><circle cx="4.6" cy="4.600" r="1.2" fill="#fff"></circle></svg>
    <div class="t a" style="left: 56.6px; font-size: 14.5px; top: 11.83px; letter-spacing: -0.24px;">khách khó tính</div>
    <div class="t d" style="left: 8.6px; font-size: 13px; top: 34.9px; letter-spacing: 0.04px;">Tạo lúc 23/09/2025, 17:03 PM</div>
    <div class="abs" style="left:233px;top:10.500px;width:38px;height:38px;border-radius:7px;background:#fbfbfd"></div>
    <div class="abs" style="left:278px;top:10.500px;width:38px;height:38px;border-radius:7px;background:#fbfbfd"></div>
    <svg style="left:245px;top:22.500px" width="14.500" height="14.500" viewBox="0 0 16 16" fill="#23262f"><path d="M12.146.146a.5.5 0 0 1 .708 0l3 3a.5.5 0 0 1 0 .708l-10 10a.5.5 0 0 1-.168.11l-5 2a.5.5 0 0 1-.65-.65l2-5a.5.5 0 0 1 .11-.168zM11.207 2.5 13.500 4.793 14.793 3.500 12.500 1.207zm1.586 3L10.500 3.207 4 9.707V10h.5a.5.5 0 0 1 .5.5v.5h.5a.5.5 0 0 1 .5.5v.5h.293zm-9.761 5.175-.106.106-1.528 3.821 3.821-1.528.106-.106A.5.5 0 0 1 5 12.500V12h-.5a.5.5 0 0 1-.5-.5V11h-.5a.5.5 0 0 1-.468-.325"></path></svg>
    <svg style="left:290.500px;top:22.500px" width="13" height="14.500" viewBox="0 0 14 15" fill="none" stroke="#e8434e" stroke-width="1.1" stroke-linecap="round" stroke-linejoin="round"><path d="M1 3.200h12M4.800 3.200V1.700c0-.4.300-.7.700-.7h3c.4 0 .7.300.7.700v1.500M2.300 3.200l.7 9.600c.05.7.6 1.200 1.300 1.200h5.400c.7 0 1.250-.5 1.300-1.200l.7-9.600M5.300 6v5.500M7 6v5.500M8.700 6v5.500"></path></svg>
  </div>
  <div class="add">
    <svg style="left:128px;top:12.300px" width="12" height="12" viewBox="0 0 12 12" stroke="#f26a4e" stroke-width="1.5" stroke-linecap="round"><path d="M6 1v10M1 6h10"></path></svg>
    <div class="t" style="left: 147px; font-size: 14.5px; top: 10.83px; letter-spacing: -0.56px;">Thêm mới</div>
  </div>
</div>
<div class="panel" style="left:761px">
  <div class="t b" style="color: rgb(27, 32, 48); left: 14.2px; font-size: 17.5px; top: 26.79px; letter-spacing: -0.93px;">Lý do</div>
  <div class="t ph" style="left: 175.6px; font-size: 15px; top: 25.9px; letter-spacing: -0.58px;">Tìm kiếm...</div>
  <svg style="left:315.5px;top:28.5px" width="13" height="13" viewBox="0 0 14 14" fill="none" stroke="#a7abbb" stroke-width="1.3" stroke-linecap="round"><circle cx="5.8" cy="5.8" r="4.6"></circle><path d="M9.3 9.3L13 13"></path></svg>
  <div class="it" style="top:77.0px">
    <div class="t a" style="left: 8.6px; font-size: 14.5px; top: 10.83px; letter-spacing: -0.3px;">#1: Đã xác nhận lịch</div>
    <div class="t d" style="left: 8.6px; font-size: 13px; top: 36.1px; letter-spacing: 0.06px;">Tạo lúc 22/09/2025, 10:52 AM</div>
  </div>
  <div class="it" style="top:142.6px">
    <div class="t a" style="left: 8.6px; font-size: 14.5px; top: 11.83px; letter-spacing: -0.27px;">#2: Khách hài lòng</div>
    <div class="t d" style="left: 8.6px; font-size: 13px; top: 34.9px; letter-spacing: 0.1px;">Tạo lúc 22/09/2025, 11:03 AM</div>
  </div>
  <div class="it" style="top:208.2px">
    <div class="t a" style="left: 8.6px; font-size: 14.5px; top: 10.83px; letter-spacing: -0.26px;">#3: Khách không hài lòng</div>
    <div class="t d" style="left: 8.6px; font-size: 13px; top: 36.1px; letter-spacing: 0.1px;">Tạo lúc 22/09/2025, 11:03 AM</div>
  </div>
  <div class="it" style="top:273.8px">
    <div class="t a" style="left: 8.6px; font-size: 14.5px; top: 10.83px; letter-spacing: -0.2px;">#4: Không muốn đặt cọc</div>
    <div class="t d" style="left: 8.6px; font-size: 13px; top: 35.1px; letter-spacing: 0.03px;">Tạo lúc 23/09/2025, 17:35 PM</div>
  </div>
  <div class="add">
    <svg style="left:128px;top:12.300px" width="12" height="12" viewBox="0 0 12 12" stroke="#f26a4e" stroke-width="1.5" stroke-linecap="round"><path d="M6 1v10M1 6h10"></path></svg>
    <div class="t" style="left: 147px; font-size: 14.5px; top: 10.83px; letter-spacing: -0.56px;">Thêm mới</div>
  </div>
</div>
</div>


</body></html>
